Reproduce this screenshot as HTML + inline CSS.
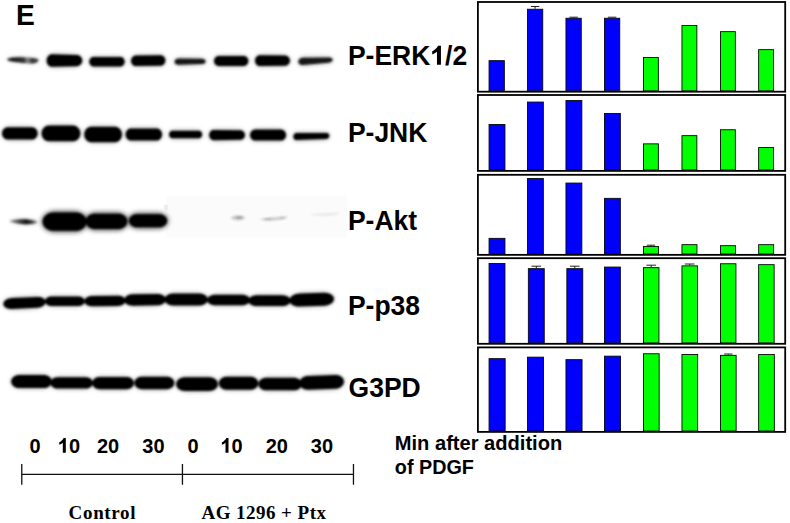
<!DOCTYPE html>
<html><head><meta charset="utf-8">
<style>
html,body{margin:0;padding:0;background:#fff;}
body{width:790px;height:523px;overflow:hidden;position:relative;}
svg{position:absolute;left:0;top:0;}
.s{font-family:"Liberation Sans",sans-serif;font-weight:bold;fill:#000;}
.f{font-family:"Liberation Serif",serif;font-weight:bold;fill:#000;}
</style></head><body>
<svg width="790" height="523" viewBox="0 0 790 523">
<defs><filter id="bl" x="-10%" y="-50%" width="120%" height="200%"><feGaussianBlur stdDeviation="0.85"/></filter><linearGradient id="g1" x1="6" x2="39" y1="0" y2="0" gradientUnits="userSpaceOnUse"><stop offset="0" stop-color="#555"/><stop offset="0.2" stop-color="#1a1a1a"/><stop offset="0.55" stop-color="#333"/><stop offset="0.65" stop-color="#888"/><stop offset="0.8" stop-color="#333"/><stop offset="1" stop-color="#555"/></linearGradient><linearGradient id="g2" x1="9" x2="38" y1="0" y2="0" gradientUnits="userSpaceOnUse"><stop offset="0" stop-color="#999"/><stop offset="0.3" stop-color="#555"/><stop offset="0.6" stop-color="#111"/><stop offset="0.8" stop-color="#444"/><stop offset="1" stop-color="#aaa"/></linearGradient><filter id="bh3" x="-30%" y="-100%" width="160%" height="300%"><feGaussianBlur stdDeviation="2.6"/></filter><filter id="bh" x="-20%" y="-100%" width="140%" height="300%"><feGaussianBlur stdDeviation="2.2"/></filter></defs>
<rect x="0" y="0" width="790" height="523" fill="#fff"/>
<rect x="166" y="196" width="181" height="41.5" fill="#fbfbfb"/><ellipse cx="166" cy="207.5" rx="2" ry="3" fill="#ececec"/>
<g filter="url(#bh3)" opacity="0.4">
<path d="M74.61 210.50L75.78 210.54L76.95 210.67L78.10 210.88L79.22 211.17L80.31 211.54L81.35 211.99L82.35 212.52L83.28 213.11L84.15 213.77L84.94 214.48L85.66 215.25L86.29 216.07L86.84 216.94L87.29 217.84L87.64 218.76L87.90 219.71L88.05 220.68L88.10 221.65L88.05 222.62L87.90 223.59L87.64 224.54L87.29 225.46L86.84 226.36L86.29 227.22L85.66 228.05L84.94 228.82L84.15 229.53L83.28 230.19L82.35 230.78L81.35 231.31L80.31 231.76L79.22 232.13L78.10 232.42L76.95 232.63L75.78 232.76L74.61 232.80L54.69 232.80L53.52 232.76L52.35 232.63L51.20 232.42L50.08 232.13L48.99 231.76L47.95 231.31L46.95 230.78L46.02 230.19L45.15 229.53L44.36 228.82L43.64 228.05L43.01 227.23L42.46 226.36L42.01 225.46L41.66 224.54L41.40 223.59L41.25 222.62L41.20 221.65L41.25 220.68L41.40 219.71L41.66 218.76L42.01 217.84L42.46 216.94L43.01 216.08L43.64 215.25L44.36 214.48L45.15 213.77L46.02 213.11L46.95 212.52L47.95 211.99L48.99 211.54L50.08 211.17L51.20 210.88L52.35 210.67L53.52 210.54L54.69 210.50Z" fill="#000"/>
<path d="M117.12 211.70L118.14 211.74L119.15 211.85L120.15 212.03L121.12 212.28L122.06 212.60L122.96 212.99L123.82 213.45L124.63 213.96L125.38 214.53L126.07 215.15L126.69 215.81L127.24 216.52L127.71 217.27L128.10 218.05L128.40 218.85L128.62 219.67L128.76 220.51L128.80 221.35L128.76 222.19L128.62 223.03L128.40 223.85L128.10 224.65L127.71 225.43L127.24 226.17L126.69 226.89L126.07 227.55L125.38 228.17L124.63 228.74L123.82 229.25L122.96 229.71L122.06 230.10L121.12 230.42L120.15 230.67L119.15 230.85L118.14 230.96L117.12 231.00L95.88 231.00L94.86 230.96L93.85 230.85L92.85 230.67L91.88 230.42L90.94 230.10L90.04 229.71L89.18 229.25L88.37 228.74L87.62 228.17L86.93 227.55L86.31 226.89L85.76 226.18L85.29 225.43L84.90 224.65L84.60 223.85L84.38 223.03L84.24 222.19L84.20 221.35L84.24 220.51L84.38 219.67L84.60 218.85L84.90 218.05L85.29 217.27L85.76 216.53L86.31 215.81L86.93 215.15L87.62 214.53L88.37 213.96L89.18 213.45L90.04 212.99L90.94 212.60L91.88 212.28L92.85 212.03L93.85 211.85L94.86 211.74L95.88 211.70Z" fill="#000"/>
<path d="M158.25 212.20L159.16 212.23L160.05 212.33L160.93 212.49L161.79 212.72L162.63 213.00L163.43 213.35L164.19 213.75L164.90 214.20L165.57 214.70L166.18 215.25L166.73 215.85L167.21 216.47L167.63 217.14L167.98 217.83L168.25 218.54L168.44 219.27L168.56 220.00L168.60 220.75L168.56 221.50L168.44 222.23L168.25 222.96L167.98 223.67L167.63 224.36L167.21 225.03L166.73 225.65L166.18 226.25L165.57 226.80L164.90 227.30L164.19 227.75L163.43 228.15L162.63 228.50L161.79 228.78L160.93 229.01L160.05 229.17L159.16 229.27L158.25 229.30L137.85 229.30L136.94 229.27L136.05 229.17L135.17 229.01L134.31 228.78L133.47 228.50L132.67 228.15L131.91 227.75L131.20 227.30L130.53 226.80L129.92 226.25L129.37 225.65L128.89 225.03L128.47 224.36L128.12 223.67L127.85 222.96L127.66 222.23L127.54 221.50L127.50 220.75L127.54 220.00L127.66 219.27L127.85 218.54L128.12 217.83L128.47 217.14L128.89 216.47L129.37 215.85L129.92 215.25L130.53 214.70L131.20 214.20L131.91 213.75L132.67 213.35L133.47 213.00L134.31 212.72L135.17 212.49L136.05 212.33L136.94 212.23L137.85 212.20Z" fill="#000"/>
</g>
<g filter="url(#bh)" opacity="0.22">
<path d="M73.52 53.39L74.36 53.44L75.20 53.55L76.02 53.71L76.83 53.92L77.61 54.18L78.36 54.48L79.07 54.83L79.74 55.22L80.36 55.64L80.93 56.10L81.45 56.59L81.90 57.10L82.29 57.64L82.62 58.20L82.87 58.77L83.05 59.36L83.16 59.95L83.20 60.55L83.16 61.15L83.05 61.74L82.87 62.33L82.62 62.90L82.29 63.46L81.90 64.00L81.45 64.51L80.93 65.00L80.36 65.46L79.74 65.88L79.07 66.27L78.36 66.62L77.61 66.92L76.83 67.18L76.02 67.39L75.20 67.55L74.36 67.66L73.52 67.71L55.39 68.29L54.54 68.29L53.70 68.22L52.88 68.10L52.07 67.92L51.29 67.68L50.54 67.38L49.83 67.03L49.16 66.63L48.54 66.18L47.97 65.68L47.45 65.13L47.00 64.55L46.61 63.94L46.28 63.30L46.03 62.63L45.85 61.95L45.74 61.25L45.70 60.55L45.74 59.85L45.85 59.15L46.03 58.47L46.28 57.80L46.61 57.16L47.00 56.55L47.45 55.97L47.97 55.42L48.54 54.92L49.16 54.47L49.83 54.07L50.54 53.72L51.29 53.42L52.07 53.18L52.88 53.00L53.70 52.88L54.54 52.81L55.39 52.81Z" fill="rgb(0,0,0)"/>
<path d="M117.41 55.40L118.12 55.42L118.83 55.50L119.53 55.61L120.21 55.78L120.87 55.99L121.50 56.24L122.11 56.54L122.67 56.87L123.20 57.25L123.68 57.65L124.12 58.09L124.50 58.55L124.83 59.04L125.11 59.55L125.32 60.07L125.48 60.61L125.57 61.15L125.60 61.70L125.57 62.25L125.48 62.79L125.32 63.33L125.11 63.85L124.83 64.36L124.50 64.85L124.12 65.31L123.68 65.75L123.20 66.15L122.67 66.53L122.11 66.86L121.50 67.16L120.87 67.41L120.21 67.62L119.53 67.79L118.83 67.90L118.12 67.98L117.41 68.00L96.49 68.00L95.78 67.98L95.07 67.90L94.37 67.79L93.69 67.62L93.03 67.41L92.39 67.16L91.79 66.86L91.23 66.53L90.70 66.15L90.22 65.75L89.78 65.31L89.40 64.85L89.07 64.36L88.79 63.85L88.58 63.33L88.42 62.79L88.33 62.25L88.30 61.70L88.33 61.15L88.42 60.61L88.58 60.07L88.79 59.55L89.07 59.04L89.40 58.55L89.78 58.09L90.22 57.65L90.70 57.25L91.23 56.87L91.79 56.54L92.39 56.24L93.03 55.99L93.69 55.78L94.37 55.61L95.07 55.50L95.78 55.42L96.49 55.40Z" fill="rgb(0,0,0)"/>
<path d="M157.53 53.77L158.29 53.79L159.05 53.85L159.80 53.97L160.53 54.14L161.23 54.35L161.91 54.61L162.56 54.92L163.17 55.27L163.73 55.66L164.25 56.09L164.71 56.55L165.12 57.04L165.48 57.56L165.77 58.10L166.00 58.66L166.17 59.23L166.27 59.81L166.30 60.40L166.27 60.99L166.17 61.57L166.00 62.15L165.77 62.72L165.48 63.26L165.12 63.79L164.71 64.29L164.25 64.77L163.73 65.21L163.17 65.61L162.56 65.98L161.91 66.31L161.23 66.59L160.53 66.82L159.80 67.01L159.05 67.15L158.29 67.23L157.53 67.27L138.88 67.53L138.11 67.51L137.35 67.45L136.60 67.33L135.87 67.16L135.17 66.95L134.49 66.69L133.84 66.38L133.23 66.03L132.67 65.64L132.15 65.21L131.69 64.75L131.28 64.26L130.92 63.74L130.63 63.20L130.40 62.64L130.23 62.07L130.13 61.49L130.10 60.90L130.13 60.31L130.23 59.73L130.40 59.15L130.63 58.58L130.92 58.04L131.28 57.51L131.69 57.01L132.15 56.53L132.67 56.09L133.23 55.69L133.84 55.32L134.49 54.99L135.17 54.71L135.87 54.48L136.60 54.29L137.35 54.15L138.11 54.07L138.88 54.03Z" fill="rgb(0,0,0)"/>
<path d="M198.60 57.35L199.29 57.37L199.99 57.43L200.67 57.52L201.33 57.64L201.98 57.78L202.60 57.95L203.19 58.15L203.74 58.37L204.26 58.61L204.73 58.87L205.15 59.15L205.53 59.44L205.85 59.74L206.12 60.06L206.33 60.39L206.48 60.72L206.57 61.06L206.60 61.40L206.57 61.74L206.48 62.08L206.33 62.42L206.12 62.75L205.85 63.07L205.53 63.38L205.15 63.68L204.73 63.97L204.26 64.23L203.74 64.48L203.19 64.71L202.60 64.92L201.98 65.10L201.33 65.26L200.67 65.39L199.99 65.49L199.29 65.56L198.60 65.60L181.60 66.20L180.91 66.21L180.21 66.18L179.53 66.12L178.87 66.02L178.22 65.88L177.60 65.72L177.01 65.51L176.46 65.28L175.94 65.02L175.47 64.73L175.05 64.41L174.67 64.07L174.35 63.71L174.08 63.33L173.87 62.93L173.72 62.53L173.63 62.12L173.60 61.70L173.63 61.28L173.72 60.87L173.87 60.46L174.08 60.06L174.35 59.68L174.67 59.31L175.05 58.96L175.47 58.64L175.94 58.34L176.46 58.07L177.01 57.82L177.60 57.61L178.22 57.43L178.87 57.29L179.53 57.18L180.21 57.10L180.91 57.06L181.60 57.05Z" fill="rgb(20,20,20)"/>
<path d="M240.92 54.50L241.65 54.52L242.37 54.60L243.09 54.72L243.78 54.89L244.46 55.10L245.11 55.36L245.72 55.67L246.30 56.01L246.84 56.39L247.34 56.80L247.78 57.25L248.18 57.73L248.51 58.22L248.79 58.74L249.01 59.28L249.17 59.83L249.27 60.39L249.30 60.95L249.27 61.51L249.17 62.07L249.01 62.62L248.79 63.16L248.51 63.68L248.18 64.17L247.78 64.65L247.34 65.10L246.84 65.51L246.30 65.89L245.72 66.23L245.11 66.54L244.46 66.80L243.78 67.01L243.09 67.18L242.37 67.30L241.65 67.38L240.92 67.40L221.49 67.40L220.75 67.38L220.03 67.30L219.31 67.18L218.62 67.01L217.94 66.80L217.29 66.54L216.68 66.23L216.10 65.89L215.56 65.51L215.06 65.10L214.62 64.65L214.22 64.18L213.89 63.68L213.61 63.16L213.39 62.62L213.23 62.07L213.13 61.51L213.10 60.95L213.13 60.39L213.23 59.83L213.39 59.28L213.61 58.74L213.89 58.22L214.22 57.73L214.62 57.25L215.06 56.80L215.56 56.39L216.10 56.01L216.68 55.67L217.29 55.36L217.94 55.10L218.62 54.89L219.31 54.72L220.03 54.60L220.75 54.52L221.49 54.50Z" fill="rgb(0,0,0)"/>
<path d="M282.12 54.08L282.89 54.12L283.65 54.20L284.40 54.34L285.13 54.52L285.83 54.75L286.51 55.03L287.16 55.34L287.77 55.69L288.33 56.08L288.85 56.50L289.31 56.96L289.72 57.43L290.08 57.93L290.37 58.45L290.60 58.99L290.77 59.54L290.87 60.09L290.90 60.65L290.87 61.21L290.77 61.76L290.60 62.31L290.37 62.85L290.08 63.37L289.72 63.87L289.31 64.34L288.85 64.80L288.33 65.22L287.77 65.61L287.16 65.96L286.51 66.27L285.83 66.55L285.13 66.78L284.40 66.96L283.65 67.10L282.89 67.18L282.12 67.22L262.88 67.58L262.11 67.56L261.35 67.50L260.60 67.38L259.87 67.21L259.17 66.99L258.49 66.72L257.84 66.40L257.23 66.04L256.67 65.63L256.15 65.18L255.69 64.70L255.28 64.18L254.92 63.64L254.63 63.07L254.40 62.48L254.23 61.88L254.13 61.27L254.10 60.65L254.13 60.03L254.23 59.42L254.40 58.82L254.63 58.23L254.92 57.66L255.28 57.12L255.69 56.60L256.15 56.12L256.67 55.67L257.23 55.26L257.84 54.90L258.49 54.58L259.17 54.31L259.87 54.09L260.60 53.92L261.35 53.80L262.11 53.74L262.88 53.72Z" fill="rgb(0,0,0)"/>
<path d="M325.14 56.11L325.87 56.13L326.61 56.17L327.33 56.25L328.03 56.35L328.71 56.48L329.37 56.64L329.99 56.81L330.58 57.01L331.12 57.23L331.62 57.47L332.07 57.72L332.47 57.99L332.81 58.27L333.09 58.56L333.31 58.86L333.47 59.17L333.57 59.48L333.60 59.80L333.57 60.12L333.47 60.45L333.31 60.77L333.09 61.09L332.81 61.41L332.47 61.73L332.07 62.03L331.62 62.33L331.12 62.61L330.58 62.89L329.99 63.14L329.37 63.38L328.71 63.60L328.03 63.80L327.33 63.97L326.61 64.12L325.87 64.24L325.14 64.33L305.86 66.27L305.13 66.32L304.39 66.34L303.67 66.31L302.97 66.24L302.29 66.13L301.63 65.98L301.01 65.79L300.42 65.56L299.88 65.29L299.38 64.99L298.93 64.65L298.53 64.27L298.19 63.88L297.91 63.45L297.69 63.01L297.53 62.55L297.43 62.08L297.40 61.60L297.43 61.12L297.53 60.64L297.69 60.16L297.91 59.70L298.19 59.24L298.53 58.81L298.93 58.40L299.38 58.02L299.88 57.66L300.42 57.34L301.01 57.05L301.63 56.80L302.29 56.58L302.97 56.40L303.67 56.26L304.39 56.17L305.13 56.11L305.86 56.09Z" fill="rgb(20,20,20)"/>
<path d="M28.72 125.80L29.58 125.83L30.44 125.92L31.28 126.06L32.10 126.26L32.90 126.51L33.66 126.82L34.39 127.17L35.07 127.58L35.71 128.03L36.29 128.51L36.81 129.04L37.28 129.60L37.67 130.19L38.00 130.80L38.26 131.43L38.45 132.08L38.56 132.74L38.60 133.40L38.56 134.06L38.45 134.72L38.26 135.37L38.00 136.00L37.67 136.61L37.28 137.20L36.81 137.76L36.29 138.29L35.71 138.77L35.07 139.22L34.39 139.63L33.66 139.98L32.90 140.29L32.10 140.54L31.28 140.74L30.44 140.88L29.58 140.97L28.72 141.00L10.98 141.00L10.12 140.97L9.26 140.88L8.42 140.74L7.60 140.54L6.80 140.29L6.04 139.98L5.31 139.63L4.63 139.22L3.99 138.77L3.41 138.29L2.89 137.76L2.42 137.20L2.03 136.61L1.70 136.00L1.44 135.37L1.25 134.72L1.14 134.06L1.10 133.40L1.14 132.74L1.25 132.08L1.44 131.43L1.70 130.80L2.03 130.19L2.42 129.60L2.89 129.04L3.41 128.51L3.99 128.03L4.63 127.58L5.31 127.17L6.04 126.82L6.80 126.51L7.60 126.26L8.42 126.06L9.26 125.92L10.12 125.83L10.98 125.80Z" fill="rgb(0,0,0)"/>
<path d="M69.21 124.10L70.26 124.14L71.31 124.24L72.34 124.42L73.35 124.66L74.32 124.97L75.25 125.35L76.14 125.78L76.98 126.28L77.76 126.82L78.47 127.42L79.11 128.07L79.68 128.75L80.17 129.47L80.57 130.22L80.89 130.99L81.12 131.79L81.25 132.59L81.30 133.40L81.25 134.21L81.12 135.01L80.89 135.81L80.57 136.58L80.17 137.33L79.68 138.05L79.11 138.73L78.47 139.38L77.76 139.98L76.98 140.52L76.14 141.02L75.25 141.45L74.32 141.83L73.35 142.14L72.34 142.38L71.31 142.56L70.26 142.66L69.21 142.70L52.69 142.70L51.64 142.66L50.59 142.56L49.56 142.38L48.55 142.14L47.58 141.83L46.65 141.45L45.76 141.02L44.92 140.52L44.14 139.98L43.43 139.38L42.79 138.73L42.22 138.05L41.73 137.33L41.33 136.58L41.01 135.81L40.78 135.01L40.65 134.21L40.60 133.40L40.65 132.59L40.78 131.79L41.01 130.99L41.33 130.22L41.73 129.47L42.22 128.75L42.79 128.07L43.43 127.42L44.14 126.82L44.92 126.28L45.76 125.78L46.64 125.35L47.58 124.97L48.55 124.66L49.56 124.42L50.59 124.24L51.64 124.14L52.69 124.10Z" fill="rgb(0,0,0)"/>
<path d="M110.81 125.20L111.86 125.24L112.91 125.34L113.94 125.52L114.95 125.76L115.92 126.07L116.86 126.45L117.74 126.88L118.58 127.38L119.36 127.92L120.07 128.52L120.71 129.17L121.28 129.85L121.77 130.57L122.17 131.32L122.49 132.09L122.72 132.89L122.85 133.69L122.90 134.50L122.85 135.31L122.72 136.11L122.49 136.91L122.17 137.68L121.77 138.43L121.28 139.15L120.71 139.83L120.07 140.48L119.36 141.08L118.58 141.62L117.74 142.12L116.86 142.55L115.92 142.93L114.95 143.24L113.94 143.48L112.91 143.66L111.86 143.76L110.81 143.80L95.39 143.80L94.34 143.76L93.29 143.66L92.26 143.48L91.25 143.24L90.28 142.93L89.34 142.55L88.46 142.12L87.62 141.62L86.84 141.08L86.13 140.48L85.49 139.83L84.92 139.15L84.43 138.43L84.03 137.68L83.71 136.91L83.48 136.11L83.35 135.31L83.30 134.50L83.35 133.69L83.48 132.89L83.71 132.09L84.03 131.32L84.43 130.57L84.92 129.85L85.49 129.17L86.13 128.52L86.84 127.92L87.62 127.38L88.46 126.88L89.34 126.45L90.28 126.07L91.25 125.76L92.26 125.52L93.29 125.34L94.34 125.24L95.39 125.20Z" fill="rgb(0,0,0)"/>
<path d="M153.12 126.90L153.98 126.93L154.84 127.02L155.68 127.16L156.50 127.36L157.30 127.61L158.06 127.92L158.79 128.27L159.47 128.68L160.11 129.13L160.69 129.61L161.21 130.14L161.68 130.70L162.07 131.29L162.40 131.90L162.66 132.53L162.85 133.18L162.96 133.84L163.00 134.50L162.96 135.16L162.85 135.82L162.66 136.47L162.40 137.10L162.07 137.71L161.68 138.30L161.21 138.86L160.69 139.39L160.11 139.87L159.47 140.32L158.79 140.73L158.06 141.08L157.30 141.39L156.50 141.64L155.68 141.84L154.84 141.98L153.98 142.07L153.12 142.10L134.48 142.10L133.62 142.07L132.76 141.98L131.92 141.84L131.10 141.64L130.30 141.39L129.54 141.08L128.81 140.73L128.13 140.32L127.49 139.87L126.91 139.39L126.39 138.86L125.92 138.30L125.53 137.71L125.20 137.10L124.94 136.47L124.75 135.82L124.64 135.16L124.60 134.50L124.64 133.84L124.75 133.18L124.94 132.53L125.20 131.90L125.53 131.29L125.92 130.70L126.39 130.14L126.91 129.61L127.49 129.13L128.13 128.68L128.81 128.27L129.54 127.92L130.30 127.61L131.10 127.36L131.92 127.16L132.76 127.02L133.62 126.93L134.48 126.90Z" fill="rgb(0,0,0)"/>
<path d="M196.21 129.20L196.81 129.22L197.41 129.28L197.99 129.38L198.57 129.52L199.12 129.70L199.65 129.91L200.16 130.16L200.64 130.44L201.08 130.75L201.49 131.09L201.85 131.46L202.18 131.85L202.45 132.26L202.68 132.69L202.87 133.13L203.00 133.58L203.07 134.04L203.10 134.50L203.07 134.96L203.00 135.42L202.87 135.87L202.68 136.31L202.45 136.74L202.18 137.15L201.85 137.54L201.49 137.91L201.08 138.25L200.64 138.56L200.16 138.84L199.66 139.09L199.12 139.30L198.57 139.48L197.99 139.62L197.41 139.72L196.81 139.78L196.21 139.80L174.99 139.80L174.39 139.78L173.79 139.72L173.21 139.62L172.63 139.48L172.08 139.30L171.55 139.09L171.04 138.84L170.56 138.56L170.12 138.25L169.71 137.91L169.35 137.54L169.02 137.15L168.75 136.74L168.52 136.31L168.33 135.87L168.20 135.42L168.13 134.96L168.10 134.50L168.13 134.04L168.20 133.58L168.33 133.13L168.52 132.69L168.75 132.26L169.02 131.85L169.35 131.46L169.71 131.09L170.12 130.75L170.56 130.44L171.04 130.16L171.54 129.91L172.08 129.70L172.63 129.52L173.21 129.38L173.79 129.28L174.39 129.22L174.99 129.20Z" fill="rgb(0,0,0)"/>
<path d="M237.51 128.78L238.25 128.82L238.97 128.90L239.69 129.03L240.38 129.20L241.06 129.42L241.71 129.68L242.32 129.98L242.90 130.32L243.44 130.69L243.94 131.09L244.38 131.52L244.78 131.98L245.11 132.45L245.39 132.95L245.61 133.46L245.77 133.99L245.87 134.52L245.90 135.05L245.87 135.58L245.77 136.11L245.61 136.64L245.39 137.15L245.11 137.65L244.78 138.12L244.38 138.58L243.94 139.01L243.44 139.41L242.90 139.78L242.32 140.12L241.71 140.42L241.06 140.68L240.38 140.90L239.69 141.07L238.97 141.20L238.25 141.28L237.51 141.32L216.58 141.68L215.85 141.67L215.13 141.60L214.41 141.49L213.72 141.33L213.04 141.11L212.39 140.85L211.78 140.55L211.20 140.20L210.66 139.81L210.16 139.38L209.72 138.92L209.32 138.43L208.99 137.91L208.71 137.36L208.49 136.80L208.33 136.23L208.23 135.64L208.20 135.05L208.23 134.46L208.33 133.87L208.49 133.30L208.71 132.74L208.99 132.19L209.32 131.67L209.72 131.18L210.16 130.72L210.66 130.29L211.20 129.90L211.78 129.55L212.39 129.25L213.04 128.99L213.72 128.77L214.41 128.61L215.13 128.50L215.85 128.43L216.58 128.42Z" fill="rgb(0,0,0)"/>
<path d="M277.90 128.10L278.69 128.13L279.48 128.21L280.26 128.34L281.01 128.52L281.75 128.76L282.45 129.04L283.12 129.37L283.75 129.74L284.33 130.15L284.87 130.60L285.35 131.08L285.78 131.60L286.15 132.14L286.45 132.71L286.69 133.29L286.86 133.88L286.97 134.49L287.00 135.10L286.97 135.71L286.86 136.32L286.69 136.91L286.45 137.49L286.15 138.06L285.78 138.60L285.35 139.12L284.87 139.60L284.33 140.05L283.75 140.46L283.12 140.83L282.45 141.16L281.75 141.44L281.01 141.68L280.26 141.86L279.48 141.99L278.69 142.07L277.90 142.10L258.20 142.10L257.41 142.07L256.62 141.99L255.84 141.86L255.09 141.68L254.35 141.44L253.65 141.16L252.98 140.83L252.35 140.46L251.77 140.05L251.23 139.60L250.75 139.12L250.32 138.60L249.95 138.06L249.65 137.49L249.41 136.91L249.24 136.32L249.13 135.71L249.10 135.10L249.13 134.49L249.24 133.88L249.41 133.29L249.65 132.71L249.95 132.14L250.32 131.60L250.75 131.08L251.23 130.60L251.77 130.15L252.35 129.74L252.98 129.37L253.65 129.04L254.35 128.76L255.09 128.52L255.84 128.34L256.62 128.21L257.41 128.13L258.20 128.10Z" fill="rgb(0,0,0)"/>
<path d="M324.12 131.55L324.66 131.57L325.20 131.62L325.72 131.71L326.24 131.82L326.73 131.97L327.21 132.15L327.67 132.35L328.09 132.58L328.49 132.83L328.86 133.11L329.18 133.41L329.47 133.72L329.72 134.05L329.93 134.39L330.09 134.75L330.21 135.11L330.28 135.48L330.30 135.85L330.28 136.22L330.21 136.59L330.09 136.96L329.93 137.32L329.72 137.68L329.47 138.02L329.18 138.34L328.86 138.65L328.49 138.94L328.09 139.21L327.67 139.46L327.21 139.68L326.73 139.88L326.24 140.05L325.72 140.19L325.20 140.29L324.66 140.37L324.12 140.41L298.57 141.59L298.04 141.60L297.50 141.56L296.98 141.49L296.46 141.38L295.97 141.23L295.49 141.04L295.03 140.82L294.61 140.56L294.21 140.27L293.84 139.95L293.52 139.61L293.23 139.23L292.98 138.84L292.77 138.43L292.61 138.00L292.49 137.55L292.42 137.10L292.40 136.65L292.42 136.19L292.49 135.74L292.61 135.29L292.77 134.86L292.98 134.44L293.23 134.03L293.52 133.65L293.84 133.28L294.21 132.95L294.61 132.64L295.03 132.37L295.49 132.13L295.97 131.92L296.46 131.75L296.98 131.62L297.50 131.52L298.04 131.47L298.57 131.45Z" fill="rgb(0,0,0)"/>
<path d="M70.88 211.00L72.34 211.04L73.78 211.16L75.21 211.36L76.60 211.64L77.95 212.00L79.24 212.43L80.47 212.93L81.63 213.49L82.70 214.12L83.69 214.80L84.58 215.54L85.36 216.32L86.03 217.15L86.59 218.01L87.03 218.89L87.35 219.80L87.54 220.72L87.60 221.65L87.54 222.58L87.35 223.50L87.03 224.41L86.59 225.29L86.03 226.15L85.36 226.97L84.58 227.76L83.69 228.50L82.70 229.18L81.63 229.81L80.47 230.37L79.24 230.87L77.95 231.30L76.60 231.66L75.21 231.94L73.78 232.14L72.34 232.26L70.88 232.30L58.42 232.30L56.96 232.26L55.52 232.14L54.09 231.94L52.70 231.66L51.35 231.30L50.06 230.87L48.83 230.37L47.67 229.81L46.60 229.18L45.61 228.50L44.72 227.76L43.94 226.98L43.27 226.15L42.71 225.29L42.27 224.41L41.95 223.50L41.76 222.58L41.70 221.65L41.76 220.72L41.95 219.80L42.27 218.89L42.71 218.01L43.27 217.15L43.94 216.33L44.72 215.54L45.61 214.80L46.60 214.12L47.67 213.49L48.83 212.93L50.06 212.43L51.35 212.00L52.70 211.64L54.09 211.36L55.52 211.16L56.96 211.04L58.42 211.00Z" fill="rgb(0,0,0)"/>
<path d="M113.93 212.20L115.19 212.23L116.43 212.34L117.65 212.51L118.85 212.75L120.01 213.06L121.12 213.43L122.17 213.85L123.17 214.34L124.09 214.88L124.94 215.47L125.70 216.10L126.38 216.77L126.95 217.48L127.43 218.22L127.81 218.98L128.08 219.76L128.25 220.55L128.30 221.35L128.25 222.15L128.08 222.94L127.81 223.72L127.43 224.48L126.95 225.22L126.38 225.92L125.70 226.60L124.94 227.23L124.09 227.82L123.17 228.36L122.17 228.85L121.12 229.27L120.01 229.64L118.85 229.95L117.65 230.19L116.43 230.36L115.19 230.47L113.93 230.50L99.07 230.50L97.81 230.47L96.57 230.36L95.35 230.19L94.15 229.95L92.99 229.64L91.88 229.27L90.83 228.85L89.83 228.36L88.91 227.82L88.06 227.23L87.30 226.60L86.62 225.93L86.05 225.22L85.57 224.48L85.19 223.72L84.92 222.94L84.75 222.15L84.70 221.35L84.75 220.55L84.92 219.76L85.19 218.98L85.57 218.22L86.05 217.48L86.62 216.78L87.30 216.10L88.06 215.47L88.91 214.88L89.83 214.34L90.83 213.85L91.88 213.43L92.99 213.06L94.15 212.75L95.35 212.51L96.57 212.34L97.81 212.23L99.07 212.20Z" fill="rgb(0,0,0)"/>
<path d="M154.74 212.70L155.90 212.73L157.06 212.82L158.20 212.97L159.31 213.19L160.38 213.45L161.42 213.78L162.40 214.16L163.33 214.58L164.19 215.06L164.97 215.58L165.68 216.13L166.31 216.72L166.85 217.35L167.29 218.00L167.64 218.67L167.90 219.35L168.05 220.05L168.10 220.75L168.05 221.45L167.90 222.15L167.64 222.83L167.29 223.50L166.85 224.15L166.31 224.78L165.68 225.37L164.97 225.92L164.19 226.44L163.33 226.92L162.40 227.34L161.42 227.72L160.38 228.05L159.31 228.31L158.20 228.53L157.06 228.68L155.90 228.77L154.74 228.80L141.36 228.80L140.20 228.77L139.04 228.68L137.90 228.53L136.79 228.31L135.72 228.05L134.68 227.72L133.70 227.34L132.77 226.92L131.91 226.44L131.13 225.92L130.42 225.37L129.79 224.78L129.25 224.15L128.81 223.50L128.46 222.83L128.20 222.15L128.05 221.45L128.00 220.75L128.05 220.05L128.20 219.35L128.46 218.67L128.81 218.00L129.25 217.35L129.79 216.72L130.42 216.13L131.13 215.58L131.91 215.06L132.77 214.58L133.70 214.16L134.68 213.78L135.72 213.45L136.79 213.19L137.90 212.97L139.04 212.82L140.20 212.73L141.36 212.70Z" fill="rgb(0,0,0)"/>
<path d="M33.28 295.60L34.44 295.58L35.60 295.60L36.73 295.68L37.84 295.81L38.91 295.99L39.94 296.23L40.92 296.50L41.84 296.83L42.70 297.20L43.48 297.61L44.19 298.05L44.82 298.53L45.35 299.04L45.80 299.58L46.15 300.13L46.40 300.71L46.55 301.30L46.60 301.90L46.55 302.50L46.40 303.11L46.15 303.71L45.80 304.30L45.35 304.87L44.82 305.43L44.19 305.97L43.48 306.48L42.70 306.96L41.84 307.40L40.92 307.81L39.94 308.18L38.91 308.50L37.84 308.78L36.73 309.01L35.60 309.19L34.44 309.32L33.28 309.40L15.72 310.20L14.56 310.22L13.40 310.20L12.27 310.12L11.16 309.99L10.09 309.81L9.06 309.57L8.08 309.30L7.16 308.97L6.30 308.60L5.52 308.19L4.81 307.75L4.18 307.27L3.65 306.76L3.20 306.22L2.85 305.67L2.60 305.09L2.45 304.50L2.40 303.90L2.45 303.30L2.60 302.69L2.85 302.09L3.20 301.50L3.65 300.93L4.18 300.37L4.81 299.83L5.52 299.32L6.30 298.84L7.16 298.40L8.08 297.99L9.06 297.62L10.09 297.30L11.16 297.02L12.27 296.79L13.40 296.61L14.56 296.48L15.72 296.40Z" fill="rgb(0,0,0)"/>
<path d="M73.64 294.90L74.71 294.92L75.77 295.00L76.82 295.12L77.84 295.28L78.82 295.49L79.77 295.75L80.67 296.05L81.52 296.39L82.31 296.76L83.03 297.17L83.68 297.61L84.26 298.07L84.75 298.57L85.16 299.08L85.48 299.61L85.71 300.15L85.85 300.70L85.90 301.25L85.85 301.80L85.71 302.35L85.48 302.89L85.16 303.42L84.75 303.93L84.26 304.43L83.68 304.89L83.03 305.33L82.31 305.74L81.52 306.11L80.67 306.45L79.77 306.75L78.82 307.01L77.84 307.22L76.82 307.38L75.77 307.50L74.71 307.58L73.64 307.60L56.16 307.60L55.09 307.58L54.03 307.50L52.98 307.38L51.96 307.22L50.98 307.01L50.03 306.75L49.13 306.45L48.28 306.11L47.49 305.74L46.77 305.33L46.12 304.89L45.54 304.43L45.05 303.93L44.64 303.42L44.32 302.89L44.09 302.35L43.95 301.80L43.90 301.25L43.95 300.70L44.09 300.15L44.32 299.61L44.64 299.08L45.05 298.57L45.54 298.07L46.12 297.61L46.77 297.17L47.49 296.76L48.28 296.39L49.13 296.05L50.03 295.75L50.98 295.49L51.96 295.28L52.98 295.12L54.03 295.00L55.09 294.92L56.16 294.90Z" fill="rgb(0,0,0)"/>
<path d="M113.67 294.20L114.78 294.21L115.89 294.27L116.99 294.39L118.06 294.55L119.09 294.76L120.08 295.02L121.03 295.32L121.92 295.66L122.74 296.04L123.50 296.46L124.18 296.91L124.78 297.39L125.30 297.90L125.73 298.43L126.06 298.98L126.31 299.55L126.45 300.12L126.50 300.70L126.45 301.28L126.31 301.86L126.06 302.43L125.73 302.98L125.30 303.52L124.78 304.04L124.18 304.54L123.50 305.01L122.74 305.45L121.92 305.85L121.03 306.21L120.08 306.53L119.09 306.81L118.06 307.05L116.99 307.23L115.89 307.37L114.78 307.46L113.67 307.50L96.23 307.70L95.12 307.69L94.01 307.63L92.91 307.51L91.84 307.35L90.81 307.14L89.82 306.88L88.87 306.58L87.98 306.24L87.16 305.86L86.40 305.44L85.72 304.99L85.12 304.51L84.60 304.00L84.17 303.47L83.84 302.92L83.59 302.35L83.45 301.78L83.40 301.20L83.45 300.62L83.59 300.04L83.84 299.47L84.17 298.92L84.60 298.38L85.12 297.86L85.72 297.36L86.40 296.89L87.16 296.45L87.98 296.05L88.87 295.69L89.82 295.37L90.81 295.09L91.84 294.85L92.91 294.67L94.01 294.53L95.12 294.44L96.23 294.40Z" fill="rgb(0,0,0)"/>
<path d="M153.00 292.51L154.22 292.52L155.42 292.59L156.60 292.71L157.76 292.89L158.88 293.12L159.95 293.39L160.97 293.72L161.94 294.09L162.83 294.51L163.65 294.96L164.39 295.45L165.04 295.97L165.60 296.52L166.06 297.10L166.43 297.69L166.69 298.30L166.85 298.92L166.90 299.55L166.85 300.18L166.69 300.80L166.43 301.42L166.06 302.02L165.60 302.61L165.04 303.17L164.39 303.71L163.65 304.22L162.83 304.69L161.94 305.12L160.97 305.52L159.95 305.86L158.88 306.17L157.76 306.42L156.60 306.62L155.42 306.77L154.22 306.87L153.00 306.91L137.10 307.09L135.88 307.08L134.68 307.01L133.50 306.89L132.34 306.71L131.22 306.48L130.15 306.21L129.13 305.88L128.16 305.51L127.27 305.09L126.45 304.64L125.71 304.15L125.06 303.63L124.50 303.08L124.04 302.50L123.67 301.91L123.41 301.30L123.25 300.68L123.20 300.05L123.25 299.42L123.41 298.80L123.67 298.18L124.04 297.58L124.50 296.99L125.06 296.43L125.71 295.89L126.45 295.38L127.27 294.91L128.16 294.48L129.13 294.08L130.15 293.74L131.22 293.43L132.34 293.18L133.50 292.98L134.68 292.83L135.88 292.73L137.10 292.69Z" fill="rgb(0,0,0)"/>
<path d="M194.43 292.00L195.69 292.03L196.94 292.11L198.17 292.26L199.38 292.45L200.54 292.70L201.66 293.00L202.73 293.36L203.73 293.75L204.66 294.20L205.51 294.68L206.28 295.20L206.96 295.75L207.54 296.33L208.03 296.93L208.41 297.56L208.68 298.20L208.84 298.85L208.90 299.50L208.84 300.15L208.68 300.80L208.41 301.44L208.03 302.07L207.54 302.67L206.96 303.25L206.28 303.80L205.51 304.32L204.66 304.80L203.73 305.25L202.73 305.64L201.66 306.00L200.54 306.30L199.38 306.55L198.17 306.74L196.94 306.89L195.69 306.97L194.43 307.00L177.97 307.00L176.71 306.97L175.46 306.89L174.23 306.74L173.02 306.55L171.86 306.30L170.74 306.00L169.67 305.64L168.67 305.25L167.74 304.80L166.89 304.32L166.12 303.80L165.44 303.25L164.86 302.67L164.37 302.07L163.99 301.44L163.72 300.80L163.56 300.15L163.50 299.50L163.56 298.85L163.72 298.20L163.99 297.56L164.37 296.93L164.86 296.33L165.44 295.75L166.12 295.20L166.89 294.68L167.74 294.20L168.67 293.75L169.67 293.36L170.74 293.00L171.86 292.70L173.02 292.45L174.23 292.26L175.46 292.11L176.71 292.03L177.97 292.00Z" fill="rgb(0,0,0)"/>
<path d="M237.88 293.20L239.02 293.23L240.15 293.30L241.27 293.43L242.36 293.61L243.42 293.84L244.44 294.11L245.40 294.43L246.31 294.79L247.16 295.19L247.93 295.63L248.63 296.10L249.24 296.60L249.77 297.13L250.21 297.67L250.55 298.24L250.80 298.82L250.95 299.41L251.00 300.00L250.95 300.59L250.80 301.18L250.55 301.76L250.21 302.33L249.77 302.87L249.24 303.40L248.63 303.90L247.93 304.37L247.16 304.81L246.31 305.21L245.40 305.57L244.44 305.89L243.42 306.16L242.36 306.39L241.27 306.57L240.15 306.70L239.02 306.77L237.88 306.80L219.32 306.80L218.18 306.77L217.05 306.70L215.93 306.57L214.84 306.39L213.78 306.16L212.76 305.89L211.80 305.57L210.89 305.21L210.04 304.81L209.27 304.37L208.57 303.90L207.96 303.40L207.43 302.87L206.99 302.33L206.65 301.76L206.40 301.18L206.25 300.59L206.20 300.00L206.25 299.41L206.40 298.82L206.65 298.24L206.99 297.67L207.43 297.13L207.96 296.60L208.57 296.10L209.27 295.63L210.04 295.19L210.89 294.79L211.80 294.43L212.76 294.11L213.78 293.84L214.84 293.61L215.93 293.43L217.05 293.30L218.18 293.23L219.32 293.20Z" fill="rgb(0,0,0)"/>
<path d="M278.28 293.80L279.44 293.83L280.60 293.90L281.73 294.04L282.84 294.22L283.91 294.45L284.94 294.72L285.92 295.05L286.84 295.41L287.70 295.82L288.48 296.26L289.19 296.74L289.82 297.25L290.35 297.78L290.80 298.34L291.15 298.91L291.40 299.50L291.55 300.10L291.60 300.70L291.55 301.30L291.40 301.90L291.15 302.49L290.80 303.06L290.35 303.62L289.82 304.15L289.19 304.66L288.48 305.14L287.70 305.58L286.84 305.99L285.92 306.35L284.94 306.68L283.91 306.95L282.84 307.18L281.73 307.36L280.60 307.50L279.44 307.57L278.28 307.60L260.72 307.60L259.56 307.57L258.40 307.50L257.27 307.36L256.16 307.18L255.09 306.95L254.06 306.68L253.08 306.35L252.16 305.99L251.30 305.58L250.52 305.14L249.81 304.66L249.18 304.15L248.65 303.62L248.20 303.06L247.85 302.49L247.60 301.90L247.45 301.30L247.40 300.70L247.45 300.10L247.60 299.50L247.85 298.91L248.20 298.34L248.65 297.78L249.18 297.25L249.81 296.74L250.52 296.26L251.30 295.82L252.16 295.41L253.08 295.05L254.06 294.72L255.09 294.45L256.16 294.22L257.27 294.04L258.40 293.90L259.56 293.83L260.72 293.80Z" fill="rgb(0,0,0)"/>
<path d="M319.56 291.44L320.89 291.43L322.22 291.48L323.53 291.59L324.80 291.76L326.04 291.98L327.23 292.26L328.36 292.60L329.42 292.99L330.41 293.42L331.31 293.91L332.13 294.43L332.84 294.99L333.46 295.59L333.97 296.21L334.38 296.86L334.67 297.53L334.84 298.21L334.90 298.90L334.84 299.59L334.67 300.29L334.38 300.97L333.97 301.65L333.46 302.31L332.84 302.94L332.13 303.55L331.31 304.13L330.41 304.67L329.42 305.17L328.36 305.62L327.23 306.03L326.04 306.39L324.80 306.70L323.53 306.95L322.22 307.14L320.89 307.27L319.56 307.34L303.74 307.86L302.41 307.87L301.08 307.82L299.77 307.71L298.50 307.54L297.26 307.32L296.07 307.04L294.94 306.70L293.88 306.31L292.89 305.88L291.99 305.39L291.17 304.87L290.46 304.31L289.84 303.71L289.33 303.09L288.92 302.44L288.63 301.77L288.46 301.09L288.40 300.40L288.46 299.71L288.63 299.01L288.92 298.33L289.33 297.65L289.84 296.99L290.46 296.36L291.17 295.75L291.99 295.17L292.89 294.63L293.88 294.13L294.94 293.68L296.07 293.27L297.26 292.91L298.50 292.60L299.77 292.35L301.08 292.16L302.41 292.03L303.74 291.96Z" fill="rgb(0,0,0)"/>
<path d="M39.80 373.50L40.93 373.53L42.06 373.62L43.16 373.77L44.25 373.99L45.29 374.25L46.30 374.58L47.26 374.96L48.16 375.38L48.99 375.86L49.76 376.38L50.45 376.93L51.06 377.52L51.58 378.15L52.02 378.80L52.36 379.47L52.60 380.15L52.75 380.85L52.80 381.55L52.75 382.25L52.60 382.95L52.36 383.63L52.02 384.30L51.58 384.95L51.06 385.57L50.45 386.17L49.76 386.72L48.99 387.24L48.16 387.72L47.26 388.14L46.30 388.52L45.29 388.85L44.25 389.11L43.16 389.33L42.06 389.48L40.93 389.57L39.80 389.60L23.20 389.60L22.07 389.57L20.94 389.48L19.84 389.33L18.75 389.11L17.71 388.85L16.70 388.52L15.74 388.14L14.84 387.72L14.01 387.24L13.24 386.72L12.55 386.17L11.94 385.58L11.42 384.95L10.98 384.30L10.64 383.63L10.40 382.95L10.25 382.25L10.20 381.55L10.25 380.85L10.40 380.15L10.64 379.47L10.98 378.80L11.42 378.15L11.94 377.53L12.55 376.93L13.24 376.38L14.01 375.86L14.84 375.38L15.74 374.96L16.70 374.58L17.71 374.25L18.75 373.99L19.84 373.77L20.94 373.62L22.07 373.53L23.20 373.50Z" fill="rgb(0,0,0)"/>
<path d="M82.25 375.80L83.26 375.83L84.26 375.91L85.24 376.04L86.20 376.23L87.13 376.47L88.03 376.76L88.88 377.09L89.68 377.47L90.42 377.89L91.10 378.35L91.71 378.85L92.25 379.38L92.72 379.93L93.10 380.50L93.41 381.10L93.62 381.71L93.76 382.33L93.80 382.95L93.76 383.57L93.62 384.19L93.41 384.80L93.10 385.40L92.72 385.97L92.25 386.53L91.71 387.05L91.10 387.55L90.42 388.01L89.68 388.43L88.88 388.81L88.03 389.14L87.13 389.43L86.20 389.67L85.24 389.86L84.26 389.99L83.26 390.07L82.25 390.10L61.05 390.10L60.04 390.07L59.04 389.99L58.06 389.86L57.10 389.67L56.17 389.43L55.27 389.14L54.42 388.81L53.62 388.43L52.88 388.01L52.20 387.55L51.59 387.05L51.05 386.53L50.58 385.97L50.20 385.40L49.89 384.80L49.68 384.19L49.54 383.57L49.50 382.95L49.54 382.33L49.68 381.71L49.89 381.10L50.20 380.50L50.58 379.93L51.05 379.38L51.59 378.85L52.20 378.35L52.88 377.89L53.62 377.47L54.42 377.09L55.27 376.76L56.17 376.47L57.10 376.23L58.06 376.04L59.04 375.91L60.04 375.83L61.05 375.80Z" fill="rgb(0,0,0)"/>
<path d="M122.63 375.50L123.70 375.53L124.76 375.62L125.80 375.76L126.82 375.96L127.81 376.21L128.76 376.52L129.67 376.87L130.52 377.28L131.31 377.73L132.03 378.21L132.68 378.74L133.26 379.30L133.75 379.89L134.16 380.50L134.48 381.13L134.71 381.78L134.85 382.44L134.90 383.10L134.85 383.76L134.71 384.42L134.48 385.07L134.16 385.70L133.75 386.31L133.26 386.90L132.68 387.46L132.03 387.99L131.31 388.47L130.52 388.92L129.67 389.33L128.76 389.68L127.81 389.99L126.82 390.24L125.80 390.44L124.76 390.58L123.70 390.67L122.63 390.70L103.47 390.70L102.40 390.67L101.34 390.58L100.30 390.44L99.28 390.24L98.29 389.99L97.34 389.68L96.43 389.33L95.58 388.92L94.79 388.47L94.07 387.99L93.42 387.46L92.84 386.90L92.35 386.31L91.94 385.70L91.62 385.07L91.39 384.42L91.25 383.76L91.20 383.10L91.25 382.44L91.39 381.78L91.62 381.13L91.94 380.50L92.35 379.89L92.84 379.30L93.42 378.74L94.07 378.21L94.79 377.73L95.58 377.28L96.43 376.87L97.34 376.52L98.29 376.21L99.28 375.96L100.30 375.76L101.34 375.62L102.40 375.53L103.47 375.50Z" fill="rgb(0,0,0)"/>
<path d="M162.78 375.20L163.87 375.23L164.96 375.32L166.02 375.46L167.06 375.67L168.07 375.93L169.04 376.24L169.96 376.60L170.83 377.01L171.63 377.47L172.37 377.97L173.04 378.50L173.62 379.07L174.13 379.67L174.55 380.30L174.87 380.94L175.11 381.60L175.25 382.27L175.30 382.95L175.25 383.63L175.11 384.30L174.87 384.96L174.55 385.60L174.13 386.23L173.62 386.82L173.04 387.40L172.37 387.93L171.63 388.43L170.83 388.89L169.96 389.30L169.04 389.66L168.07 389.97L167.06 390.23L166.02 390.44L164.96 390.58L163.87 390.67L162.78 390.70L145.92 390.70L144.83 390.67L143.74 390.58L142.68 390.44L141.64 390.23L140.63 389.97L139.66 389.66L138.74 389.30L137.87 388.89L137.07 388.43L136.33 387.93L135.66 387.40L135.08 386.82L134.57 386.23L134.15 385.60L133.83 384.96L133.59 384.30L133.45 383.63L133.40 382.95L133.45 382.27L133.59 381.60L133.83 380.94L134.15 380.30L134.57 379.67L135.08 379.07L135.66 378.50L136.33 377.97L137.07 377.47L137.87 377.01L138.74 376.60L139.66 376.24L140.63 375.93L141.64 375.67L142.68 375.46L143.74 375.32L144.83 375.23L145.92 375.20Z" fill="rgb(0,0,0)"/>
<path d="M205.50 375.80L206.66 375.83L207.82 375.93L208.96 376.08L210.08 376.30L211.16 376.58L212.20 376.91L213.18 377.30L214.11 377.74L214.97 378.23L215.76 378.76L216.48 379.34L217.10 379.95L217.64 380.59L218.09 381.26L218.44 381.95L218.70 382.66L218.85 383.38L218.90 384.10L218.85 384.82L218.70 385.54L218.44 386.25L218.09 386.94L217.64 387.61L217.10 388.25L216.48 388.86L215.76 389.44L214.97 389.97L214.11 390.46L213.18 390.90L212.20 391.29L211.16 391.62L210.08 391.90L208.96 392.12L207.82 392.27L206.66 392.37L205.50 392.40L188.60 392.40L187.44 392.37L186.28 392.27L185.14 392.12L184.02 391.90L182.94 391.62L181.90 391.29L180.92 390.90L179.99 390.46L179.13 389.97L178.34 389.44L177.62 388.86L177.00 388.25L176.46 387.61L176.01 386.94L175.66 386.25L175.40 385.54L175.25 384.82L175.20 384.10L175.25 383.38L175.40 382.66L175.66 381.95L176.01 381.26L176.46 380.59L177.00 379.95L177.62 379.34L178.34 378.76L179.13 378.23L179.99 377.74L180.92 377.30L181.90 376.91L182.94 376.58L184.02 376.30L185.14 376.08L186.28 375.93L187.44 375.83L188.60 375.80Z" fill="rgb(0,0,0)"/>
<path d="M246.30 375.20L247.43 375.23L248.56 375.32L249.66 375.47L250.75 375.69L251.79 375.95L252.80 376.28L253.76 376.66L254.66 377.08L255.49 377.56L256.26 378.08L256.95 378.63L257.56 379.23L258.08 379.85L258.52 380.50L258.86 381.17L259.10 381.85L259.25 382.55L259.30 383.25L259.25 383.95L259.10 384.65L258.86 385.33L258.52 386.00L258.08 386.65L257.56 387.27L256.95 387.87L256.26 388.42L255.49 388.94L254.66 389.42L253.76 389.84L252.80 390.22L251.79 390.55L250.75 390.81L249.66 391.03L248.56 391.18L247.43 391.27L246.30 391.30L230.90 391.30L229.77 391.27L228.64 391.18L227.54 391.03L226.45 390.81L225.41 390.55L224.40 390.22L223.44 389.84L222.54 389.42L221.71 388.94L220.94 388.42L220.25 387.87L219.64 387.28L219.12 386.65L218.68 386.00L218.34 385.33L218.10 384.65L217.95 383.95L217.90 383.25L217.95 382.55L218.10 381.85L218.34 381.17L218.68 380.50L219.12 379.85L219.64 379.23L220.25 378.63L220.94 378.08L221.71 377.56L222.54 377.08L223.44 376.66L224.40 376.28L225.41 375.95L226.45 375.69L227.54 375.47L228.64 375.32L229.77 375.23L230.90 375.20Z" fill="rgb(0,0,0)"/>
<path d="M290.28 376.30L291.37 376.33L292.46 376.42L293.52 376.56L294.56 376.77L295.57 377.03L296.54 377.34L297.46 377.70L298.33 378.11L299.13 378.57L299.87 379.07L300.54 379.60L301.12 380.18L301.63 380.77L302.05 381.40L302.37 382.04L302.61 382.70L302.75 383.37L302.80 384.05L302.75 384.73L302.61 385.40L302.37 386.06L302.05 386.70L301.63 387.33L301.12 387.93L300.54 388.50L299.87 389.03L299.13 389.53L298.33 389.99L297.46 390.40L296.54 390.76L295.57 391.07L294.56 391.33L293.52 391.54L292.46 391.68L291.37 391.77L290.28 391.80L269.92 391.80L268.83 391.77L267.74 391.68L266.68 391.54L265.64 391.33L264.63 391.07L263.66 390.76L262.74 390.40L261.87 389.99L261.07 389.53L260.33 389.03L259.66 388.50L259.08 387.93L258.57 387.33L258.15 386.70L257.83 386.06L257.59 385.40L257.45 384.73L257.40 384.05L257.45 383.37L257.59 382.70L257.83 382.04L258.15 381.40L258.57 380.77L259.08 380.18L259.66 379.60L260.33 379.07L261.07 378.57L261.87 378.11L262.74 377.70L263.66 377.34L264.63 377.03L265.64 376.77L266.68 376.56L267.74 376.42L268.83 376.33L269.92 376.30Z" fill="rgb(0,0,0)"/>
<path d="M331.41 373.69L332.59 373.68L333.76 373.74L334.90 373.86L336.03 374.04L337.11 374.28L338.16 374.59L339.15 374.95L340.08 375.36L340.95 375.82L341.75 376.33L342.46 376.89L343.09 377.48L343.64 378.11L344.09 378.77L344.44 379.45L344.70 380.16L344.85 380.87L344.90 381.60L344.85 382.33L344.70 383.06L344.44 383.78L344.09 384.48L343.64 385.17L343.09 385.83L342.46 386.47L341.75 387.07L340.95 387.63L340.08 388.15L339.15 388.63L338.16 389.05L337.11 389.42L336.03 389.73L334.90 389.99L333.76 390.18L332.59 390.32L331.41 390.39L311.89 391.01L310.71 391.02L309.54 390.96L308.40 390.84L307.27 390.66L306.19 390.42L305.14 390.11L304.15 389.75L303.22 389.34L302.35 388.88L301.55 388.37L300.84 387.81L300.21 387.22L299.66 386.59L299.21 385.93L298.86 385.25L298.60 384.54L298.45 383.83L298.40 383.10L298.45 382.37L298.60 381.64L298.86 380.92L299.21 380.22L299.66 379.53L300.21 378.87L300.84 378.23L301.55 377.63L302.35 377.07L303.22 376.55L304.15 376.07L305.14 375.65L306.19 375.28L307.27 374.97L308.40 374.71L309.54 374.52L310.71 374.38L311.89 374.31Z" fill="rgb(0,0,0)"/>
<path d="M6 59C9 57 16 56.5 24 57C30 57.5 35 57.8 39 59C39 62 37 63.5 33 63.8C28 64 24 63 19 62.5C13 62 8 61.5 6 59Z" fill="#000"/>
<path d="M9 221C14 219 22 218.5 28 219C33 219.4 36.5 220.4 38.5 222C36 224 32 224.8 27 224.8C20 224.5 13 223 9 221Z" fill="#000"/>
</g>
<g filter="url(#bl)">
<path d="M76.61 54.93L77.09 54.96L77.58 55.04L78.05 55.16L78.52 55.31L78.97 55.51L79.40 55.74L79.82 56.01L80.20 56.32L80.56 56.65L80.89 57.01L81.19 57.39L81.45 57.80L81.68 58.23L81.86 58.67L82.01 59.13L82.12 59.60L82.18 60.07L82.20 60.55L82.18 61.03L82.12 61.50L82.01 61.97L81.86 62.43L81.68 62.87L81.45 63.30L81.19 63.71L80.89 64.09L80.56 64.45L80.20 64.78L79.82 65.09L79.40 65.36L78.97 65.59L78.52 65.79L78.05 65.94L77.58 66.06L77.09 66.14L76.61 66.17L52.29 66.83L51.81 66.82L51.32 66.76L50.85 66.65L50.38 66.50L49.93 66.30L49.50 66.05L49.08 65.76L48.70 65.43L48.34 65.06L48.01 64.66L47.71 64.22L47.45 63.75L47.22 63.26L47.04 62.74L46.89 62.21L46.78 61.67L46.72 61.11L46.70 60.55L46.72 59.99L46.78 59.43L46.89 58.89L47.04 58.36L47.22 57.84L47.45 57.35L47.71 56.88L48.01 56.44L48.34 56.04L48.70 55.67L49.08 55.34L49.50 55.05L49.93 54.80L50.38 54.60L50.85 54.45L51.32 54.34L51.81 54.28L52.29 54.27Z" fill="rgb(0,0,0)"/>
<path d="M120.09 56.90L120.48 56.92L120.87 56.97L121.26 57.06L121.63 57.19L121.99 57.35L122.34 57.54L122.68 57.77L122.99 58.02L123.28 58.31L123.54 58.61L123.78 58.95L124.00 59.30L124.18 59.67L124.33 60.06L124.45 60.46L124.53 60.87L124.58 61.28L124.60 61.70L124.58 62.12L124.53 62.53L124.45 62.94L124.33 63.34L124.18 63.73L124.00 64.10L123.78 64.45L123.54 64.79L123.28 65.09L122.99 65.38L122.68 65.63L122.34 65.86L121.99 66.05L121.63 66.21L121.26 66.34L120.87 66.43L120.48 66.48L120.09 66.50L93.81 66.50L93.42 66.48L93.03 66.43L92.64 66.34L92.27 66.21L91.91 66.05L91.56 65.86L91.22 65.63L90.91 65.38L90.62 65.09L90.36 64.79L90.12 64.45L89.90 64.10L89.72 63.73L89.57 63.34L89.45 62.94L89.37 62.53L89.32 62.12L89.30 61.70L89.32 61.28L89.37 60.87L89.45 60.46L89.57 60.06L89.72 59.67L89.90 59.30L90.12 58.95L90.36 58.61L90.62 58.31L90.91 58.02L91.22 57.77L91.56 57.54L91.91 57.35L92.27 57.19L92.64 57.06L93.03 56.97L93.42 56.92L93.81 56.90Z" fill="rgb(0,0,0)"/>
<path d="M160.37 55.22L160.80 55.24L161.22 55.29L161.64 55.38L162.05 55.51L162.45 55.68L162.83 55.89L163.20 56.13L163.54 56.40L163.85 56.71L164.15 57.04L164.41 57.40L164.64 57.78L164.84 58.19L165.00 58.61L165.13 59.04L165.23 59.49L165.28 59.94L165.30 60.40L165.28 60.86L165.23 61.31L165.13 61.76L165.00 62.20L164.84 62.63L164.64 63.03L164.41 63.42L164.15 63.79L163.85 64.13L163.54 64.45L163.20 64.73L162.83 64.98L162.45 65.20L162.05 65.38L161.64 65.52L161.22 65.63L160.80 65.70L160.37 65.72L136.03 66.08L135.60 66.06L135.18 66.01L134.76 65.92L134.35 65.79L133.95 65.62L133.57 65.41L133.20 65.17L132.86 64.90L132.55 64.59L132.25 64.26L131.99 63.90L131.76 63.52L131.56 63.11L131.40 62.69L131.27 62.26L131.17 61.81L131.12 61.36L131.10 60.90L131.12 60.44L131.17 59.99L131.27 59.54L131.40 59.10L131.56 58.67L131.76 58.27L131.99 57.88L132.25 57.51L132.55 57.17L132.86 56.85L133.20 56.57L133.57 56.32L133.95 56.10L134.35 55.92L134.76 55.78L135.18 55.67L135.60 55.60L136.03 55.58Z" fill="rgb(0,0,0)"/>
<path d="M201.38 58.80L201.75 58.81L202.11 58.84L202.47 58.90L202.82 58.97L203.16 59.06L203.49 59.17L203.80 59.29L204.09 59.43L204.36 59.58L204.61 59.75L204.84 59.93L205.03 60.12L205.20 60.32L205.35 60.52L205.46 60.74L205.54 60.96L205.58 61.18L205.60 61.40L205.58 61.62L205.54 61.85L205.46 62.07L205.35 62.28L205.20 62.49L205.03 62.69L204.84 62.89L204.61 63.07L204.36 63.24L204.09 63.40L203.80 63.55L203.49 63.68L203.16 63.79L202.82 63.89L202.47 63.96L202.11 64.02L201.75 64.06L201.38 64.08L178.82 64.72L178.45 64.72L178.09 64.69L177.73 64.64L177.38 64.57L177.04 64.48L176.71 64.36L176.40 64.22L176.11 64.07L175.84 63.89L175.59 63.69L175.36 63.48L175.17 63.26L175.00 63.02L174.85 62.77L174.74 62.51L174.66 62.24L174.62 61.97L174.60 61.70L174.62 61.43L174.66 61.16L174.74 60.89L174.85 60.63L175.00 60.37L175.17 60.13L175.36 59.90L175.59 59.69L175.84 59.49L176.11 59.31L176.40 59.14L176.71 59.00L177.04 58.88L177.38 58.78L177.73 58.70L178.09 58.64L178.45 58.61L178.82 58.60Z" fill="rgb(20,20,20)"/>
<path d="M194.09 59.89L194.42 59.89L194.74 59.92L195.06 59.95L195.37 59.99L195.68 60.05L195.97 60.11L196.25 60.19L196.51 60.27L196.75 60.37L196.97 60.47L197.17 60.58L197.35 60.69L197.50 60.81L197.62 60.93L197.72 61.06L197.79 61.19L197.84 61.33L197.85 61.46L197.84 61.59L197.79 61.73L197.72 61.86L197.62 61.99L197.50 62.12L197.35 62.24L197.17 62.36L196.97 62.47L196.75 62.58L196.51 62.67L196.25 62.76L195.97 62.85L195.68 62.92L195.37 62.98L195.06 63.03L194.74 63.07L194.42 63.10L194.09 63.11L184.56 63.41L184.23 63.41L183.91 63.40L183.59 63.37L183.28 63.33L182.97 63.28L182.68 63.22L182.40 63.14L182.14 63.05L181.90 62.94L181.68 62.83L181.48 62.70L181.30 62.57L181.15 62.43L181.03 62.28L180.93 62.12L180.86 61.97L180.81 61.80L180.80 61.64L180.81 61.48L180.86 61.31L180.93 61.15L181.03 61.00L181.15 60.84L181.30 60.70L181.48 60.56L181.68 60.43L181.90 60.31L182.14 60.21L182.40 60.11L182.68 60.02L182.97 59.95L183.28 59.89L183.59 59.85L183.91 59.82L184.23 59.80L184.56 59.79Z" fill="rgb(20,20,20)"/>
<path d="M243.65 56.00L244.05 56.02L244.45 56.08L244.85 56.17L245.24 56.30L245.61 56.46L245.97 56.66L246.32 56.90L246.64 57.16L246.94 57.45L247.21 57.77L247.46 58.11L247.68 58.48L247.86 58.86L248.02 59.26L248.14 59.67L248.23 60.09L248.28 60.52L248.30 60.95L248.28 61.38L248.23 61.81L248.14 62.23L248.02 62.64L247.86 63.04L247.68 63.43L247.46 63.79L247.21 64.13L246.94 64.45L246.64 64.74L246.32 65.00L245.97 65.24L245.61 65.44L245.24 65.60L244.85 65.73L244.45 65.82L244.05 65.88L243.65 65.90L218.75 65.90L218.35 65.88L217.95 65.82L217.55 65.73L217.16 65.60L216.79 65.44L216.43 65.24L216.08 65.00L215.76 64.74L215.46 64.45L215.19 64.13L214.94 63.79L214.72 63.43L214.54 63.04L214.38 62.64L214.26 62.23L214.17 61.81L214.12 61.38L214.10 60.95L214.12 60.52L214.17 60.09L214.26 59.67L214.38 59.26L214.54 58.86L214.72 58.48L214.94 58.11L215.19 57.77L215.46 57.45L215.76 57.16L216.08 56.90L216.43 56.66L216.79 56.46L217.16 56.30L217.55 56.17L217.95 56.08L218.35 56.02L218.75 56.00Z" fill="rgb(0,0,0)"/>
<path d="M284.96 55.59L285.40 55.61L285.82 55.68L286.24 55.78L286.65 55.92L287.05 56.09L287.43 56.30L287.80 56.54L288.14 56.81L288.45 57.11L288.75 57.43L289.01 57.78L289.24 58.15L289.44 58.54L289.60 58.94L289.73 59.36L289.83 59.78L289.88 60.22L289.90 60.65L289.88 61.08L289.83 61.52L289.73 61.94L289.60 62.36L289.44 62.76L289.24 63.15L289.01 63.52L288.75 63.87L288.45 64.19L288.14 64.49L287.80 64.76L287.43 65.00L287.05 65.21L286.65 65.38L286.24 65.52L285.82 65.62L285.40 65.69L284.96 65.71L260.04 66.09L259.60 66.07L259.18 66.02L258.76 65.92L258.35 65.78L257.95 65.61L257.57 65.39L257.20 65.14L256.86 64.85L256.55 64.53L256.25 64.18L255.99 63.80L255.76 63.40L255.56 62.98L255.40 62.53L255.27 62.08L255.17 61.61L255.12 61.13L255.10 60.65L255.12 60.17L255.17 59.69L255.27 59.22L255.40 58.77L255.56 58.32L255.76 57.90L255.99 57.50L256.25 57.12L256.55 56.77L256.86 56.45L257.20 56.16L257.57 55.91L257.95 55.69L258.35 55.52L258.76 55.38L259.18 55.28L259.60 55.23L260.04 55.21Z" fill="rgb(0,0,0)"/>
<path d="M328.01 57.40L328.41 57.40L328.81 57.42L329.20 57.46L329.58 57.53L329.95 57.60L330.31 57.70L330.64 57.81L330.96 57.94L331.26 58.08L331.53 58.24L331.77 58.40L331.99 58.58L332.17 58.77L332.32 58.96L332.44 59.16L332.53 59.37L332.58 59.58L332.60 59.80L332.58 60.02L332.53 60.23L332.44 60.45L332.32 60.67L332.17 60.88L331.99 61.08L331.77 61.28L331.53 61.48L331.26 61.66L330.96 61.83L330.64 61.99L330.31 62.14L329.95 62.27L329.58 62.39L329.20 62.49L328.81 62.58L328.41 62.64L328.01 62.69L302.99 64.91L302.59 64.93L302.19 64.93L301.80 64.90L301.42 64.83L301.05 64.74L300.69 64.63L300.36 64.49L300.04 64.32L299.74 64.13L299.47 63.91L299.23 63.67L299.01 63.42L298.83 63.14L298.68 62.85L298.56 62.55L298.47 62.24L298.42 61.92L298.40 61.60L298.42 61.27L298.47 60.95L298.56 60.63L298.68 60.32L298.83 60.01L299.01 59.72L299.23 59.44L299.47 59.18L299.74 58.93L300.04 58.71L300.36 58.51L300.69 58.33L301.05 58.18L301.42 58.05L301.80 57.95L302.19 57.87L302.59 57.83L302.99 57.80Z" fill="rgb(20,20,20)"/>
<path d="M319.96 58.75L320.31 58.74L320.67 58.76L321.02 58.78L321.36 58.82L321.69 58.86L322.00 58.92L322.31 58.98L322.59 59.06L322.85 59.14L323.09 59.23L323.31 59.33L323.50 59.44L323.67 59.55L323.80 59.66L323.91 59.78L323.99 59.90L324.03 60.03L324.05 60.16L324.03 60.29L323.99 60.42L323.91 60.55L323.80 60.69L323.67 60.82L323.50 60.95L323.31 61.07L323.09 61.20L322.85 61.31L322.59 61.43L322.31 61.54L322.00 61.64L321.69 61.73L321.36 61.81L321.02 61.89L320.67 61.95L320.31 62.00L319.96 62.04L309.33 63.08L308.98 63.10L308.62 63.11L308.27 63.11L307.93 63.08L307.60 63.04L307.29 62.99L306.98 62.91L306.70 62.82L306.44 62.72L306.20 62.60L305.98 62.46L305.79 62.31L305.62 62.15L305.49 61.99L305.38 61.81L305.30 61.62L305.26 61.43L305.24 61.24L305.26 61.04L305.30 60.85L305.38 60.66L305.49 60.47L305.62 60.28L305.79 60.10L305.98 59.93L306.20 59.77L306.44 59.63L306.70 59.49L306.98 59.37L307.29 59.26L307.60 59.17L307.93 59.09L308.27 59.03L308.62 58.98L308.98 58.95L309.33 58.93Z" fill="rgb(20,20,20)"/>
<path d="M31.87 127.30L32.37 127.32L32.86 127.39L33.35 127.51L33.83 127.67L34.29 127.87L34.73 128.12L35.15 128.40L35.55 128.73L35.92 129.09L36.26 129.48L36.56 129.90L36.83 130.35L37.06 130.82L37.25 131.31L37.40 131.82L37.51 132.34L37.58 132.87L37.60 133.40L37.58 133.93L37.51 134.46L37.40 134.98L37.25 135.49L37.06 135.98L36.83 136.45L36.56 136.90L36.26 137.32L35.92 137.71L35.55 138.07L35.15 138.40L34.73 138.68L34.29 138.93L33.83 139.13L33.35 139.29L32.86 139.41L32.37 139.48L31.87 139.50L7.83 139.50L7.33 139.48L6.84 139.41L6.35 139.29L5.87 139.13L5.41 138.93L4.97 138.68L4.55 138.40L4.15 138.07L3.78 137.71L3.44 137.32L3.14 136.90L2.87 136.45L2.64 135.98L2.45 135.49L2.30 134.98L2.19 134.46L2.12 133.93L2.10 133.40L2.12 132.87L2.19 132.34L2.30 131.82L2.45 131.31L2.64 130.82L2.87 130.35L3.14 129.90L3.44 129.48L3.78 129.09L4.15 128.73L4.55 128.40L4.97 128.12L5.41 127.87L5.87 127.67L6.35 127.51L6.84 127.39L7.33 127.32L7.83 127.30Z" fill="rgb(0,0,0)"/>
<path d="M72.97 125.60L73.61 125.63L74.24 125.72L74.87 125.87L75.48 126.07L76.07 126.33L76.63 126.65L77.17 127.01L77.68 127.42L78.15 127.88L78.58 128.39L78.97 128.93L79.32 129.50L79.61 130.10L79.86 130.73L80.05 131.38L80.19 132.05L80.27 132.72L80.30 133.40L80.27 134.08L80.19 134.75L80.05 135.42L79.86 136.07L79.61 136.70L79.32 137.30L78.97 137.87L78.58 138.41L78.15 138.92L77.68 139.38L77.17 139.79L76.63 140.15L76.07 140.47L75.48 140.73L74.87 140.93L74.24 141.08L73.61 141.17L72.97 141.20L48.93 141.20L48.29 141.17L47.66 141.08L47.03 140.93L46.42 140.73L45.83 140.47L45.27 140.15L44.73 139.79L44.22 139.38L43.75 138.92L43.32 138.41L42.93 137.87L42.58 137.30L42.29 136.70L42.04 136.07L41.85 135.42L41.71 134.75L41.63 134.08L41.60 133.40L41.63 132.72L41.71 132.05L41.85 131.38L42.04 130.73L42.29 130.10L42.58 129.50L42.93 128.93L43.32 128.39L43.75 127.88L44.22 127.42L44.73 127.01L45.27 126.65L45.83 126.33L46.42 126.07L47.03 125.87L47.66 125.72L48.29 125.63L48.93 125.60Z" fill="rgb(0,0,0)"/>
<path d="M114.57 126.70L115.21 126.73L115.84 126.82L116.47 126.97L117.08 127.17L117.67 127.43L118.23 127.75L118.77 128.11L119.28 128.52L119.75 128.98L120.18 129.49L120.57 130.03L120.92 130.60L121.21 131.20L121.46 131.83L121.65 132.48L121.79 133.15L121.87 133.82L121.90 134.50L121.87 135.18L121.79 135.85L121.65 136.52L121.46 137.17L121.21 137.80L120.92 138.40L120.57 138.97L120.18 139.51L119.75 140.02L119.28 140.48L118.77 140.89L118.23 141.25L117.67 141.57L117.08 141.83L116.47 142.03L115.84 142.18L115.21 142.27L114.57 142.30L91.63 142.30L90.99 142.27L90.36 142.18L89.73 142.03L89.12 141.83L88.53 141.57L87.97 141.25L87.43 140.89L86.92 140.48L86.45 140.02L86.02 139.51L85.63 138.97L85.28 138.40L84.99 137.80L84.74 137.17L84.55 136.52L84.41 135.85L84.33 135.18L84.30 134.50L84.33 133.82L84.41 133.15L84.55 132.48L84.74 131.83L84.99 131.20L85.28 130.60L85.63 130.03L86.02 129.49L86.45 128.98L86.92 128.52L87.43 128.11L87.97 127.75L88.53 127.43L89.12 127.17L89.73 126.97L90.36 126.82L90.99 126.73L91.63 126.70Z" fill="rgb(0,0,0)"/>
<path d="M156.27 128.40L156.77 128.42L157.26 128.49L157.75 128.61L158.23 128.77L158.69 128.97L159.13 129.22L159.55 129.50L159.95 129.83L160.32 130.19L160.66 130.58L160.96 131.00L161.23 131.45L161.46 131.92L161.65 132.41L161.80 132.92L161.91 133.44L161.98 133.97L162.00 134.50L161.98 135.03L161.91 135.56L161.80 136.08L161.65 136.59L161.46 137.08L161.23 137.55L160.96 138.00L160.66 138.42L160.32 138.81L159.95 139.17L159.55 139.50L159.13 139.78L158.69 140.03L158.23 140.23L157.75 140.39L157.26 140.51L156.77 140.58L156.27 140.60L131.33 140.60L130.83 140.58L130.34 140.51L129.85 140.39L129.37 140.23L128.91 140.03L128.47 139.78L128.05 139.50L127.65 139.17L127.28 138.81L126.94 138.42L126.64 138.00L126.37 137.55L126.14 137.08L125.95 136.59L125.80 136.08L125.69 135.56L125.62 135.03L125.60 134.50L125.62 133.97L125.69 133.44L125.80 132.92L125.95 132.41L126.14 131.92L126.37 131.45L126.64 131.00L126.94 130.58L127.28 130.19L127.65 129.83L128.05 129.50L128.47 129.22L128.91 128.97L129.37 128.77L129.85 128.61L130.34 128.49L130.83 128.42L131.33 128.40Z" fill="rgb(0,0,0)"/>
<path d="M198.53 130.70L198.84 130.71L199.15 130.76L199.45 130.83L199.75 130.93L200.04 131.06L200.31 131.21L200.58 131.39L200.82 131.59L201.05 131.81L201.26 132.06L201.45 132.32L201.62 132.60L201.77 132.89L201.88 133.20L201.98 133.52L202.05 133.84L202.09 134.17L202.10 134.50L202.09 134.83L202.05 135.16L201.98 135.48L201.88 135.80L201.77 136.11L201.62 136.40L201.45 136.68L201.26 136.94L201.05 137.19L200.82 137.41L200.58 137.61L200.31 137.79L200.04 137.94L199.75 138.07L199.45 138.17L199.15 138.24L198.84 138.29L198.53 138.30L172.67 138.30L172.36 138.29L172.05 138.24L171.75 138.17L171.45 138.07L171.16 137.94L170.89 137.79L170.62 137.61L170.38 137.41L170.15 137.19L169.94 136.94L169.75 136.68L169.58 136.40L169.43 136.11L169.32 135.80L169.22 135.48L169.15 135.16L169.11 134.83L169.10 134.50L169.11 134.17L169.15 133.84L169.22 133.52L169.32 133.20L169.43 132.89L169.58 132.60L169.75 132.32L169.94 132.06L170.15 131.81L170.38 131.59L170.62 131.39L170.89 131.21L171.16 131.06L171.45 130.93L171.75 130.83L172.05 130.76L172.36 130.71L172.67 130.70Z" fill="rgb(0,0,0)"/>
<path d="M240.25 130.28L240.65 130.31L241.05 130.37L241.45 130.46L241.84 130.59L242.21 130.75L242.57 130.95L242.92 131.18L243.24 131.43L243.54 131.71L243.81 132.02L244.06 132.35L244.28 132.69L244.46 133.06L244.62 133.44L244.74 133.83L244.83 134.23L244.88 134.64L244.90 135.05L244.88 135.46L244.83 135.87L244.74 136.27L244.62 136.66L244.46 137.04L244.28 137.41L244.06 137.75L243.81 138.08L243.54 138.39L243.24 138.67L242.92 138.92L242.57 139.15L242.21 139.35L241.84 139.51L241.45 139.64L241.05 139.73L240.65 139.79L240.25 139.82L213.85 140.18L213.45 140.17L213.05 140.12L212.65 140.02L212.26 139.89L211.89 139.73L211.53 139.52L211.18 139.29L210.86 139.01L210.56 138.71L210.29 138.38L210.04 138.02L209.82 137.64L209.64 137.24L209.48 136.83L209.36 136.39L209.27 135.95L209.22 135.50L209.20 135.05L209.22 134.60L209.27 134.15L209.36 133.71L209.48 133.27L209.64 132.86L209.82 132.46L210.04 132.08L210.29 131.72L210.56 131.39L210.86 131.09L211.18 130.81L211.53 130.58L211.89 130.37L212.26 130.21L212.65 130.08L213.05 129.98L213.45 129.93L213.85 129.92Z" fill="rgb(0,0,0)"/>
<path d="M280.83 129.60L281.28 129.62L281.73 129.68L282.17 129.79L282.60 129.93L283.01 130.12L283.41 130.34L283.80 130.59L284.15 130.89L284.49 131.21L284.79 131.56L285.07 131.95L285.31 132.35L285.52 132.78L285.69 133.22L285.82 133.68L285.92 134.14L285.98 134.62L286.00 135.10L285.98 135.58L285.92 136.06L285.82 136.52L285.69 136.98L285.52 137.42L285.31 137.85L285.07 138.25L284.79 138.64L284.49 138.99L284.15 139.31L283.80 139.61L283.41 139.86L283.01 140.08L282.60 140.27L282.17 140.41L281.73 140.52L281.28 140.58L280.83 140.60L255.27 140.60L254.82 140.58L254.37 140.52L253.93 140.41L253.50 140.27L253.09 140.08L252.68 139.86L252.30 139.61L251.95 139.31L251.61 138.99L251.31 138.64L251.03 138.25L250.79 137.85L250.58 137.42L250.41 136.98L250.28 136.52L250.18 136.06L250.12 135.58L250.10 135.10L250.12 134.62L250.18 134.14L250.28 133.68L250.41 133.22L250.58 132.78L250.79 132.35L251.03 131.95L251.31 131.56L251.61 131.21L251.95 130.89L252.30 130.59L252.68 130.34L253.09 130.12L253.50 129.93L253.93 129.79L254.37 129.68L254.82 129.62L255.27 129.60Z" fill="rgb(0,0,0)"/>
<path d="M326.25 132.94L326.51 132.95L326.78 132.98L327.04 133.04L327.29 133.11L327.54 133.21L327.77 133.33L328.00 133.46L328.21 133.62L328.41 133.79L328.59 133.98L328.75 134.18L328.89 134.39L329.01 134.62L329.12 134.85L329.20 135.09L329.25 135.34L329.29 135.60L329.30 135.85L329.29 136.11L329.25 136.36L329.20 136.61L329.12 136.86L329.01 137.09L328.89 137.33L328.75 137.55L328.59 137.75L328.41 137.95L328.21 138.13L328.00 138.29L327.77 138.44L327.54 138.57L327.29 138.68L327.04 138.77L326.78 138.83L326.51 138.88L326.25 138.90L296.45 140.10L296.19 140.10L295.92 140.07L295.66 140.01L295.41 139.93L295.16 139.82L294.93 139.69L294.70 139.53L294.49 139.35L294.29 139.15L294.11 138.92L293.95 138.68L293.81 138.42L293.69 138.15L293.58 137.87L293.50 137.57L293.45 137.27L293.41 136.96L293.40 136.65L293.41 136.34L293.45 136.03L293.50 135.72L293.58 135.42L293.69 135.13L293.81 134.86L293.95 134.59L294.11 134.34L294.29 134.11L294.49 133.90L294.70 133.71L294.93 133.54L295.16 133.40L295.41 133.28L295.66 133.19L295.92 133.12L296.19 133.08L296.45 133.06Z" fill="rgb(0,0,0)"/>
<path d="M75.53 212.50L76.49 212.53L77.45 212.64L78.39 212.81L79.32 213.05L80.21 213.36L81.06 213.73L81.88 214.15L82.65 214.64L83.36 215.18L84.01 215.77L84.60 216.40L85.12 217.07L85.56 217.78L85.93 218.52L86.22 219.28L86.43 220.06L86.56 220.85L86.60 221.65L86.56 222.45L86.43 223.24L86.22 224.02L85.93 224.78L85.56 225.52L85.12 226.22L84.60 226.90L84.01 227.53L83.36 228.12L82.65 228.66L81.88 229.15L81.06 229.57L80.21 229.94L79.32 230.25L78.39 230.49L77.45 230.66L76.49 230.77L75.53 230.80L53.77 230.80L52.81 230.77L51.85 230.66L50.91 230.49L49.98 230.25L49.09 229.94L48.24 229.57L47.42 229.15L46.65 228.66L45.94 228.12L45.29 227.53L44.70 226.90L44.18 226.23L43.74 225.52L43.37 224.78L43.08 224.02L42.87 223.24L42.74 222.45L42.70 221.65L42.74 220.85L42.87 220.06L43.08 219.28L43.37 218.52L43.74 217.78L44.18 217.08L44.70 216.40L45.29 215.77L45.94 215.18L46.65 214.64L47.42 214.15L48.24 213.73L49.09 213.36L49.98 213.05L50.91 212.81L51.85 212.64L52.81 212.53L53.77 212.50Z" fill="rgb(0,0,0)"/>
<path d="M118.04 213.70L118.85 213.73L119.65 213.82L120.44 213.96L121.21 214.16L121.96 214.42L122.67 214.72L123.35 215.08L123.99 215.49L124.59 215.94L125.13 216.43L125.63 216.96L126.06 217.52L126.43 218.12L126.74 218.73L126.98 219.37L127.16 220.02L127.26 220.68L127.30 221.35L127.26 222.02L127.16 222.68L126.98 223.33L126.74 223.97L126.43 224.58L126.06 225.17L125.63 225.74L125.13 226.27L124.59 226.76L123.99 227.21L123.35 227.62L122.67 227.98L121.96 228.28L121.21 228.54L120.44 228.74L119.65 228.88L118.85 228.97L118.04 229.00L94.96 229.00L94.15 228.97L93.35 228.88L92.56 228.74L91.79 228.54L91.04 228.28L90.33 227.98L89.65 227.62L89.01 227.21L88.41 226.76L87.87 226.27L87.37 225.74L86.94 225.18L86.57 224.58L86.26 223.97L86.02 223.33L85.84 222.68L85.74 222.02L85.70 221.35L85.74 220.68L85.84 220.02L86.02 219.37L86.26 218.73L86.57 218.12L86.94 217.53L87.37 216.96L87.87 216.43L88.41 215.94L89.01 215.49L89.65 215.08L90.33 214.72L91.04 214.42L91.79 214.16L92.56 213.96L93.35 213.82L94.15 213.73L94.96 213.70Z" fill="rgb(0,0,0)"/>
<path d="M158.58 214.20L159.33 214.22L160.06 214.30L160.79 214.42L161.50 214.60L162.18 214.81L162.84 215.08L163.47 215.38L164.06 215.73L164.61 216.12L165.11 216.54L165.56 216.99L165.96 217.47L166.30 217.98L166.59 218.51L166.81 219.05L166.97 219.61L167.07 220.18L167.10 220.75L167.07 221.32L166.97 221.89L166.81 222.45L166.59 222.99L166.30 223.52L165.96 224.03L165.56 224.51L165.11 224.96L164.61 225.38L164.06 225.77L163.47 226.12L162.84 226.42L162.18 226.69L161.50 226.90L160.79 227.08L160.06 227.20L159.33 227.28L158.58 227.30L137.52 227.30L136.77 227.28L136.04 227.20L135.31 227.08L134.60 226.90L133.92 226.69L133.26 226.42L132.63 226.12L132.04 225.77L131.49 225.38L130.99 224.96L130.54 224.51L130.14 224.03L129.80 223.52L129.51 222.99L129.29 222.45L129.13 221.89L129.03 221.32L129.00 220.75L129.03 220.18L129.13 219.61L129.29 219.05L129.51 218.51L129.80 217.98L130.14 217.47L130.54 216.99L130.99 216.54L131.49 216.12L132.04 215.73L132.63 215.38L133.26 215.08L133.92 214.81L134.60 214.60L135.31 214.42L136.04 214.30L136.77 214.22L137.52 214.20Z" fill="rgb(0,0,0)"/>
<path d="M37.12 296.90L37.86 296.89L38.59 296.91L39.32 296.98L40.02 297.09L40.70 297.24L41.36 297.42L41.98 297.65L42.57 297.91L43.12 298.20L43.62 298.52L44.07 298.88L44.46 299.25L44.81 299.66L45.09 300.08L45.31 300.52L45.47 300.97L45.57 301.43L45.60 301.90L45.57 302.37L45.47 302.84L45.31 303.31L45.09 303.77L44.81 304.22L44.46 304.65L44.07 305.07L43.62 305.47L43.12 305.84L42.57 306.18L41.98 306.49L41.36 306.78L40.70 307.03L40.02 307.24L39.32 307.41L38.59 307.55L37.86 307.65L37.12 307.70L11.88 308.90L11.14 308.91L10.41 308.89L9.68 308.82L8.98 308.71L8.30 308.56L7.64 308.38L7.02 308.15L6.43 307.89L5.88 307.60L5.38 307.28L4.93 306.92L4.54 306.55L4.19 306.14L3.91 305.72L3.69 305.28L3.53 304.83L3.43 304.37L3.40 303.90L3.43 303.43L3.53 302.96L3.69 302.49L3.91 302.03L4.19 301.58L4.54 301.15L4.93 300.73L5.38 300.33L5.88 299.96L6.43 299.62L7.02 299.31L7.64 299.02L8.30 298.77L8.98 298.56L9.68 298.39L10.41 298.25L11.14 298.15L11.88 298.10Z" fill="rgb(0,0,0)"/>
<path d="M77.29 296.40L77.95 296.42L78.61 296.47L79.26 296.57L79.89 296.69L80.50 296.85L81.09 297.05L81.65 297.28L82.18 297.53L82.67 297.82L83.12 298.13L83.52 298.47L83.88 298.82L84.19 299.20L84.44 299.59L84.64 299.99L84.78 300.41L84.87 300.83L84.90 301.25L84.87 301.67L84.78 302.09L84.64 302.51L84.44 302.91L84.19 303.30L83.88 303.68L83.52 304.03L83.12 304.37L82.67 304.68L82.18 304.97L81.65 305.22L81.09 305.45L80.50 305.65L79.89 305.81L79.26 305.93L78.61 306.03L77.95 306.08L77.29 306.10L52.51 306.10L51.85 306.08L51.19 306.03L50.54 305.93L49.91 305.81L49.30 305.65L48.71 305.45L48.15 305.22L47.62 304.97L47.13 304.68L46.68 304.37L46.28 304.03L45.92 303.68L45.61 303.30L45.36 302.91L45.16 302.51L45.02 302.09L44.93 301.67L44.90 301.25L44.93 300.83L45.02 300.41L45.16 299.99L45.36 299.59L45.61 299.20L45.92 298.82L46.28 298.47L46.68 298.13L47.13 297.82L47.62 297.53L48.15 297.28L48.71 297.05L49.30 296.85L49.91 296.69L50.54 296.57L51.19 296.47L51.85 296.42L52.51 296.40Z" fill="rgb(0,0,0)"/>
<path d="M117.41 295.65L118.12 295.66L118.82 295.71L119.51 295.80L120.18 295.93L120.83 296.09L121.46 296.29L122.05 296.52L122.61 296.79L123.13 297.09L123.61 297.41L124.04 297.76L124.42 298.14L124.74 298.53L125.01 298.94L125.22 299.37L125.38 299.81L125.47 300.25L125.50 300.70L125.47 301.15L125.38 301.60L125.22 302.04L125.01 302.47L124.74 302.89L124.42 303.29L124.04 303.67L123.61 304.03L123.13 304.37L122.61 304.68L122.05 304.96L121.46 305.21L120.83 305.42L120.18 305.60L119.51 305.75L118.82 305.85L118.12 305.92L117.41 305.95L92.49 306.25L91.78 306.24L91.08 306.19L90.39 306.10L89.72 305.97L89.07 305.81L88.44 305.61L87.85 305.38L87.29 305.11L86.77 304.81L86.29 304.49L85.86 304.14L85.48 303.76L85.16 303.37L84.89 302.96L84.68 302.53L84.52 302.09L84.43 301.65L84.40 301.20L84.43 300.75L84.52 300.30L84.68 299.86L84.89 299.43L85.16 299.01L85.48 298.61L85.86 298.23L86.29 297.87L86.77 297.53L87.29 297.22L87.85 296.94L88.44 296.69L89.07 296.48L89.72 296.30L90.39 296.15L91.08 296.05L91.78 295.98L92.49 295.95Z" fill="rgb(0,0,0)"/>
<path d="M156.95 293.96L157.73 293.97L158.50 294.03L159.27 294.12L160.01 294.26L160.73 294.45L161.43 294.67L162.08 294.93L162.70 295.22L163.28 295.55L163.81 295.91L164.28 296.30L164.70 296.71L165.06 297.15L165.36 297.61L165.60 298.08L165.76 298.56L165.87 299.05L165.90 299.55L165.87 300.05L165.76 300.54L165.60 301.03L165.36 301.51L165.06 301.97L164.70 302.41L164.28 302.84L163.81 303.24L163.28 303.61L162.70 303.95L162.08 304.26L161.43 304.54L160.73 304.78L160.01 304.98L159.27 305.14L158.50 305.25L157.73 305.33L156.95 305.36L133.15 305.64L132.37 305.63L131.60 305.57L130.83 305.48L130.09 305.34L129.37 305.15L128.67 304.93L128.02 304.67L127.40 304.38L126.82 304.05L126.29 303.69L125.82 303.30L125.40 302.89L125.04 302.45L124.74 301.99L124.50 301.52L124.34 301.04L124.23 300.55L124.20 300.05L124.23 299.55L124.34 299.06L124.50 298.57L124.74 298.09L125.04 297.63L125.40 297.19L125.82 296.76L126.29 296.36L126.82 295.99L127.40 295.65L128.02 295.34L128.67 295.06L129.37 294.82L130.09 294.62L130.83 294.46L131.60 294.35L132.37 294.27L133.15 294.24Z" fill="rgb(0,0,0)"/>
<path d="M198.48 293.50L199.30 293.52L200.12 293.59L200.92 293.70L201.70 293.86L202.46 294.06L203.19 294.30L203.88 294.59L204.54 294.90L205.14 295.26L205.70 295.64L206.20 296.06L206.64 296.50L207.02 296.96L207.33 297.45L207.58 297.95L207.76 298.46L207.86 298.98L207.90 299.50L207.86 300.02L207.76 300.54L207.58 301.05L207.33 301.55L207.02 302.04L206.64 302.50L206.20 302.94L205.70 303.36L205.14 303.74L204.54 304.10L203.88 304.41L203.19 304.70L202.46 304.94L201.70 305.14L200.92 305.30L200.12 305.41L199.30 305.48L198.48 305.50L173.92 305.50L173.10 305.48L172.28 305.41L171.48 305.30L170.70 305.14L169.94 304.94L169.21 304.70L168.52 304.41L167.86 304.10L167.26 303.74L166.70 303.36L166.20 302.94L165.76 302.50L165.38 302.04L165.07 301.55L164.82 301.05L164.64 300.54L164.54 300.02L164.50 299.50L164.54 298.98L164.64 298.46L164.82 297.95L165.07 297.45L165.38 296.96L165.76 296.50L166.20 296.06L166.70 295.64L167.26 295.26L167.86 294.90L168.52 294.59L169.21 294.30L169.94 294.06L170.70 293.86L171.48 293.70L172.28 293.59L173.10 293.52L173.92 293.50Z" fill="rgb(0,0,0)"/>
<path d="M241.68 294.70L242.40 294.72L243.12 294.78L243.83 294.88L244.52 295.02L245.20 295.20L245.84 295.41L246.45 295.66L247.03 295.94L247.56 296.25L248.05 296.59L248.50 296.96L248.89 297.35L249.22 297.76L249.50 298.19L249.72 298.63L249.87 299.08L249.97 299.54L250.00 300.00L249.97 300.46L249.87 300.92L249.72 301.37L249.50 301.81L249.22 302.24L248.89 302.65L248.50 303.04L248.05 303.41L247.56 303.75L247.03 304.06L246.45 304.34L245.84 304.59L245.20 304.80L244.52 304.98L243.83 305.12L243.12 305.22L242.40 305.28L241.68 305.30L215.52 305.30L214.80 305.28L214.08 305.22L213.37 305.12L212.68 304.98L212.00 304.80L211.36 304.59L210.75 304.34L210.17 304.06L209.64 303.75L209.15 303.41L208.70 303.04L208.31 302.65L207.98 302.24L207.70 301.81L207.48 301.37L207.33 300.92L207.23 300.46L207.20 300.00L207.23 299.54L207.33 299.08L207.48 298.63L207.70 298.19L207.98 297.76L208.31 297.35L208.70 296.96L209.15 296.59L209.64 296.25L210.17 295.94L210.75 295.66L211.36 295.41L212.00 295.20L212.68 295.02L213.37 294.88L214.08 294.78L214.80 294.72L215.52 294.70Z" fill="rgb(0,0,0)"/>
<path d="M282.12 295.30L282.86 295.32L283.59 295.38L284.32 295.48L285.02 295.63L285.70 295.81L286.36 296.02L286.98 296.28L287.57 296.56L288.12 296.88L288.62 297.23L289.07 297.60L289.46 298.00L289.81 298.42L290.09 298.85L290.31 299.30L290.47 299.76L290.57 300.23L290.60 300.70L290.57 301.17L290.47 301.64L290.31 302.10L290.09 302.55L289.81 302.98L289.46 303.40L289.07 303.80L288.62 304.17L288.12 304.52L287.57 304.84L286.98 305.12L286.36 305.38L285.70 305.59L285.02 305.77L284.32 305.92L283.59 306.02L282.86 306.08L282.12 306.10L256.88 306.10L256.14 306.08L255.41 306.02L254.68 305.92L253.98 305.77L253.30 305.59L252.64 305.38L252.02 305.12L251.43 304.84L250.88 304.52L250.38 304.17L249.93 303.80L249.54 303.40L249.19 302.98L248.91 302.55L248.69 302.10L248.53 301.64L248.43 301.17L248.40 300.70L248.43 300.23L248.53 299.76L248.69 299.30L248.91 298.85L249.19 298.42L249.54 298.00L249.93 297.60L250.38 297.23L250.88 296.88L251.43 296.56L252.02 296.28L252.64 296.02L253.30 295.81L253.98 295.63L254.68 295.48L255.41 295.38L256.14 295.32L256.88 295.30Z" fill="rgb(0,0,0)"/>
<path d="M323.77 292.79L324.66 292.79L325.53 292.83L326.39 292.92L327.24 293.06L328.05 293.25L328.84 293.48L329.58 293.76L330.28 294.08L330.93 294.44L331.53 294.83L332.07 295.26L332.54 295.72L332.95 296.21L333.29 296.71L333.55 297.24L333.75 297.79L333.86 298.34L333.90 298.90L333.86 299.46L333.75 300.03L333.55 300.58L333.29 301.13L332.95 301.66L332.54 302.17L332.07 302.66L331.53 303.13L330.93 303.56L330.28 303.96L329.58 304.33L328.84 304.66L328.05 304.94L327.24 305.19L326.39 305.38L325.53 305.53L324.66 305.64L323.77 305.69L299.53 306.51L298.64 306.51L297.77 306.47L296.91 306.38L296.06 306.24L295.25 306.05L294.46 305.82L293.72 305.54L293.02 305.22L292.37 304.86L291.77 304.47L291.23 304.04L290.76 303.58L290.35 303.09L290.01 302.59L289.75 302.06L289.55 301.51L289.44 300.96L289.40 300.40L289.44 299.84L289.55 299.27L289.75 298.72L290.01 298.17L290.35 297.64L290.76 297.13L291.23 296.64L291.77 296.17L292.37 295.74L293.02 295.34L293.72 294.97L294.46 294.64L295.25 294.36L296.06 294.11L296.91 293.92L297.77 293.77L298.64 293.66L299.53 293.61Z" fill="rgb(0,0,0)"/>
<path d="M43.58 375.00L44.30 375.02L45.01 375.10L45.71 375.22L46.39 375.40L47.05 375.61L47.69 375.88L48.29 376.18L48.86 376.53L49.39 376.92L49.88 377.34L50.31 377.79L50.70 378.27L51.03 378.78L51.30 379.31L51.52 379.85L51.68 380.41L51.77 380.98L51.80 381.55L51.77 382.12L51.68 382.69L51.52 383.25L51.30 383.79L51.03 384.32L50.70 384.82L50.31 385.31L49.88 385.76L49.39 386.18L48.86 386.57L48.29 386.92L47.69 387.22L47.05 387.49L46.39 387.70L45.71 387.88L45.01 388.00L44.30 388.08L43.58 388.10L19.42 388.10L18.70 388.08L17.99 388.00L17.29 387.88L16.61 387.70L15.95 387.49L15.31 387.22L14.71 386.92L14.14 386.57L13.61 386.18L13.12 385.76L12.69 385.31L12.30 384.83L11.97 384.32L11.70 383.79L11.48 383.25L11.32 382.69L11.23 382.12L11.20 381.55L11.23 380.98L11.32 380.41L11.48 379.85L11.70 379.31L11.97 378.78L12.30 378.28L12.69 377.79L13.12 377.34L13.61 376.92L14.14 376.53L14.71 376.18L15.31 375.88L15.95 375.61L16.61 375.40L17.29 375.22L17.99 375.10L18.70 375.02L19.42 375.00Z" fill="rgb(0,0,0)"/>
<path d="M85.71 377.30L86.33 377.32L86.94 377.39L87.54 377.49L88.13 377.64L88.71 377.83L89.25 378.06L89.78 378.32L90.27 378.62L90.72 378.95L91.14 379.32L91.52 379.71L91.85 380.13L92.14 380.56L92.37 381.02L92.56 381.49L92.69 381.97L92.77 382.46L92.80 382.95L92.77 383.44L92.69 383.93L92.56 384.41L92.37 384.88L92.14 385.34L91.85 385.78L91.52 386.19L91.14 386.58L90.72 386.95L90.27 387.28L89.78 387.58L89.25 387.84L88.71 388.07L88.13 388.26L87.54 388.41L86.94 388.51L86.33 388.58L85.71 388.60L57.59 388.60L56.97 388.58L56.36 388.51L55.76 388.41L55.17 388.26L54.59 388.07L54.05 387.84L53.52 387.58L53.03 387.28L52.58 386.95L52.16 386.58L51.78 386.19L51.45 385.78L51.16 385.34L50.93 384.88L50.74 384.41L50.61 383.93L50.53 383.44L50.50 382.95L50.53 382.46L50.61 381.97L50.74 381.49L50.93 381.02L51.16 380.56L51.45 380.13L51.78 379.71L52.16 379.32L52.58 378.95L53.03 378.62L53.52 378.32L54.05 378.06L54.59 377.83L55.17 377.64L55.76 377.49L56.36 377.39L56.97 377.32L57.59 377.30Z" fill="rgb(0,0,0)"/>
<path d="M126.24 377.00L126.91 377.02L127.57 377.09L128.23 377.21L128.86 377.37L129.48 377.57L130.07 377.82L130.64 378.10L131.17 378.43L131.66 378.79L132.11 379.18L132.52 379.60L132.87 380.05L133.18 380.52L133.44 381.01L133.64 381.52L133.78 382.04L133.87 382.57L133.90 383.10L133.87 383.63L133.78 384.16L133.64 384.68L133.44 385.19L133.18 385.68L132.87 386.15L132.52 386.60L132.11 387.02L131.66 387.41L131.17 387.77L130.64 388.10L130.07 388.38L129.48 388.63L128.86 388.83L128.23 388.99L127.57 389.11L126.91 389.18L126.24 389.20L99.86 389.20L99.19 389.18L98.53 389.11L97.87 388.99L97.24 388.83L96.62 388.63L96.03 388.38L95.46 388.10L94.93 387.77L94.44 387.41L93.99 387.02L93.58 386.60L93.23 386.15L92.92 385.68L92.66 385.19L92.46 384.68L92.32 384.16L92.23 383.63L92.20 383.10L92.23 382.57L92.32 382.04L92.46 381.52L92.66 381.01L92.92 380.52L93.23 380.05L93.58 379.60L93.99 379.18L94.44 378.79L94.93 378.43L95.46 378.10L96.03 377.82L96.62 377.57L97.24 377.37L97.87 377.21L98.53 377.09L99.19 377.02L99.86 377.00Z" fill="rgb(0,0,0)"/>
<path d="M166.46 376.70L167.14 376.72L167.82 376.79L168.49 376.91L169.14 377.08L169.77 377.29L170.38 377.54L170.96 377.83L171.50 378.16L172.00 378.53L172.46 378.93L172.88 379.37L173.25 379.82L173.57 380.31L173.83 380.81L174.03 381.33L174.18 381.86L174.27 382.41L174.30 382.95L174.27 383.49L174.18 384.04L174.03 384.57L173.83 385.09L173.57 385.59L173.25 386.07L172.88 386.53L172.46 386.97L172.00 387.37L171.50 387.74L170.96 388.07L170.38 388.36L169.77 388.61L169.14 388.82L168.49 388.99L167.82 389.11L167.14 389.18L166.46 389.20L142.24 389.20L141.56 389.18L140.88 389.11L140.21 388.99L139.56 388.82L138.93 388.61L138.32 388.36L137.74 388.07L137.20 387.74L136.70 387.37L136.24 386.97L135.82 386.53L135.45 386.07L135.13 385.59L134.87 385.09L134.67 384.57L134.52 384.04L134.43 383.49L134.40 382.95L134.43 382.41L134.52 381.86L134.67 381.33L134.87 380.81L135.13 380.31L135.45 379.82L135.82 379.37L136.24 378.93L136.70 378.53L137.20 378.16L137.74 377.83L138.32 377.54L138.93 377.29L139.56 377.08L140.21 376.91L140.88 376.79L141.56 376.72L142.24 376.70Z" fill="rgb(0,0,0)"/>
<path d="M209.37 377.30L210.11 377.33L210.85 377.40L211.57 377.53L212.28 377.71L212.97 377.94L213.63 378.21L214.26 378.53L214.85 378.89L215.40 379.29L215.90 379.73L216.36 380.20L216.76 380.70L217.10 381.23L217.39 381.77L217.61 382.34L217.77 382.92L217.87 383.51L217.90 384.10L217.87 384.69L217.77 385.28L217.61 385.86L217.39 386.43L217.10 386.97L216.76 387.50L216.36 388.00L215.90 388.47L215.40 388.91L214.85 389.31L214.26 389.67L213.63 389.99L212.97 390.26L212.28 390.49L211.57 390.67L210.85 390.80L210.11 390.87L209.37 390.90L184.73 390.90L183.99 390.87L183.25 390.80L182.53 390.67L181.82 390.49L181.13 390.26L180.47 389.99L179.84 389.67L179.25 389.31L178.70 388.91L178.20 388.47L177.74 388.00L177.34 387.50L177.00 386.97L176.71 386.43L176.49 385.86L176.33 385.28L176.23 384.69L176.20 384.10L176.23 383.51L176.33 382.92L176.49 382.34L176.71 381.77L177.00 381.23L177.34 380.70L177.74 380.20L178.20 379.73L178.70 379.29L179.25 378.89L179.84 378.53L180.47 378.21L181.13 377.94L181.82 377.71L182.53 377.53L183.25 377.40L183.99 377.33L184.73 377.30Z" fill="rgb(0,0,0)"/>
<path d="M250.08 376.70L250.80 376.72L251.51 376.80L252.21 376.92L252.89 377.10L253.55 377.31L254.19 377.58L254.79 377.88L255.36 378.23L255.89 378.62L256.38 379.04L256.81 379.49L257.20 379.98L257.53 380.48L257.80 381.01L258.02 381.55L258.18 382.11L258.27 382.68L258.30 383.25L258.27 383.82L258.18 384.39L258.02 384.95L257.80 385.49L257.53 386.02L257.20 386.52L256.81 387.01L256.38 387.46L255.89 387.88L255.36 388.27L254.79 388.62L254.19 388.92L253.55 389.19L252.89 389.40L252.21 389.58L251.51 389.70L250.80 389.78L250.08 389.80L227.12 389.80L226.40 389.78L225.69 389.70L224.99 389.58L224.31 389.40L223.65 389.19L223.01 388.92L222.41 388.62L221.84 388.27L221.31 387.88L220.82 387.46L220.39 387.01L220.00 386.53L219.67 386.02L219.40 385.49L219.18 384.95L219.02 384.39L218.93 383.82L218.90 383.25L218.93 382.68L219.02 382.11L219.18 381.55L219.40 381.01L219.67 380.48L220.00 379.98L220.39 379.49L220.82 379.04L221.31 378.62L221.84 378.23L222.41 377.88L223.01 377.58L223.65 377.31L224.31 377.10L224.99 376.92L225.69 376.80L226.40 376.72L227.12 376.70Z" fill="rgb(0,0,0)"/>
<path d="M293.96 377.80L294.64 377.82L295.32 377.89L295.99 378.01L296.64 378.18L297.27 378.39L297.88 378.64L298.46 378.93L299.00 379.26L299.50 379.63L299.96 380.03L300.38 380.47L300.75 380.93L301.07 381.41L301.33 381.91L301.53 382.43L301.68 382.96L301.77 383.51L301.80 384.05L301.77 384.59L301.68 385.14L301.53 385.67L301.33 386.19L301.07 386.69L300.75 387.18L300.38 387.63L299.96 388.07L299.50 388.47L299.00 388.84L298.46 389.17L297.88 389.46L297.27 389.71L296.64 389.92L295.99 390.09L295.32 390.21L294.64 390.28L293.96 390.30L266.24 390.30L265.56 390.28L264.88 390.21L264.21 390.09L263.56 389.92L262.93 389.71L262.32 389.46L261.74 389.17L261.20 388.84L260.70 388.47L260.24 388.07L259.82 387.63L259.45 387.18L259.13 386.69L258.87 386.19L258.67 385.67L258.52 385.14L258.43 384.59L258.40 384.05L258.43 383.51L258.52 382.96L258.67 382.43L258.87 381.91L259.13 381.41L259.45 380.93L259.82 380.47L260.24 380.03L260.70 379.63L261.20 379.26L261.74 378.93L262.32 378.64L262.93 378.39L263.56 378.18L264.21 378.01L264.88 377.89L265.56 377.82L266.24 377.80Z" fill="rgb(0,0,0)"/>
<path d="M335.30 375.04L336.05 375.04L336.80 375.09L337.53 375.20L338.24 375.35L338.94 375.56L339.60 375.81L340.23 376.11L340.83 376.46L341.38 376.84L341.89 377.26L342.35 377.72L342.75 378.21L343.09 378.73L343.38 379.27L343.61 379.84L343.77 380.41L343.87 381.00L343.90 381.60L343.87 382.20L343.77 382.79L343.61 383.38L343.38 383.96L343.09 384.52L342.75 385.06L342.35 385.58L341.89 386.07L341.38 386.53L340.83 386.95L340.23 387.33L339.60 387.68L338.94 387.98L338.24 388.23L337.53 388.43L336.80 388.59L336.05 388.69L335.30 388.74L308.00 389.66L307.25 389.66L306.50 389.61L305.77 389.50L305.06 389.35L304.36 389.14L303.70 388.89L303.07 388.59L302.47 388.24L301.92 387.86L301.41 387.44L300.95 386.98L300.55 386.49L300.21 385.97L299.92 385.43L299.69 384.86L299.53 384.29L299.43 383.70L299.40 383.10L299.43 382.50L299.53 381.91L299.69 381.32L299.92 380.74L300.21 380.18L300.55 379.64L300.95 379.12L301.41 378.63L301.92 378.17L302.47 377.75L303.07 377.37L303.70 377.02L304.36 376.72L305.06 376.47L305.77 376.27L306.50 376.11L307.25 376.01L308.00 375.96Z" fill="rgb(0,0,0)"/>
<path d="M6.8 59.6C8.5 57.6 16 57 24 57.4C30 57.8 35 58 38.4 59.2C38.6 61.8 36.5 63.2 32 63.4C27 63.4 23 62.8 18 62.3C12 61.8 8 61.3 6.8 59.6Z" fill="url(#g1)"/>
<ellipse cx="238" cy="217.8" rx="7" ry="2.6" fill="#d0d0d0"/>
<ellipse cx="239" cy="217.5" rx="3.5" ry="1.1" fill="#8a8a8a"/>
<path d="M259 219.5Q272 216.5 288 216.5Q287 220 274 220.6Q265 221 259 219.5Z" fill="#cfcfcf"/>
<ellipse cx="268" cy="219" rx="4" ry="1" fill="#aaa"/>
<ellipse cx="282" cy="217.6" rx="3" ry="0.9" fill="#b5b5b5"/>
<path d="M309 214.5Q322 212.5 340 213Q338 215.5 324 215.8Q315 216 309 214.5Z" fill="#e6e6e6"/>
<path d="M9.5 221.2C14 219.6 22 219.0 28 219.4C33 219.8 36 220.6 37.8 222.0C36 223.6 32 224.2 27 224.2C20 224.0 13 222.8 9.5 221.2Z" fill="url(#g2)"/>
</g>
<rect x="477.90" y="2.00" width="307.30" height="89.70" fill="none" stroke="#000" stroke-width="1.8"/>
<rect x="489.05" y="60.65" width="15.30" height="30.15" fill="#0000ff" stroke="#080808" stroke-width="0.9"/>
<rect x="527.45" y="9.25" width="15.30" height="81.55" fill="#0000ff" stroke="#080808" stroke-width="0.9"/>
<path d="M530.90 6.50H539.30M535.10 6.50V8.80" stroke="#222" stroke-width="1" fill="none"/>
<rect x="565.95" y="18.25" width="15.30" height="72.55" fill="#0000ff" stroke="#080808" stroke-width="0.9"/>
<path d="M569.40 17.20H577.80M573.60 17.20V17.80" stroke="#222" stroke-width="1" fill="none"/>
<rect x="604.45" y="18.25" width="15.30" height="72.55" fill="#0000ff" stroke="#080808" stroke-width="0.9"/>
<path d="M607.90 17.20H616.30M612.10 17.20V17.80" stroke="#222" stroke-width="1" fill="none"/>
<rect x="643.45" y="57.45" width="14.90" height="33.35" fill="#00ff00" stroke="#080808" stroke-width="0.9"/>
<rect x="681.95" y="25.45" width="14.90" height="65.35" fill="#00ff00" stroke="#080808" stroke-width="0.9"/>
<rect x="720.45" y="31.65" width="14.90" height="59.15" fill="#00ff00" stroke="#080808" stroke-width="0.9"/>
<rect x="758.65" y="49.65" width="14.90" height="41.15" fill="#00ff00" stroke="#080808" stroke-width="0.9"/>
<rect x="477.90" y="95.00" width="307.30" height="75.90" fill="none" stroke="#000" stroke-width="1.8"/>
<rect x="489.05" y="124.45" width="15.90" height="45.55" fill="#0000ff" stroke="#080808" stroke-width="0.9"/>
<rect x="527.45" y="102.05" width="15.90" height="67.95" fill="#0000ff" stroke="#080808" stroke-width="0.9"/>
<rect x="565.95" y="100.55" width="15.90" height="69.45" fill="#0000ff" stroke="#080808" stroke-width="0.9"/>
<rect x="604.45" y="113.45" width="15.90" height="56.55" fill="#0000ff" stroke="#080808" stroke-width="0.9"/>
<rect x="643.45" y="143.85" width="14.90" height="26.15" fill="#00ff00" stroke="#080808" stroke-width="0.9"/>
<rect x="681.95" y="135.65" width="14.90" height="34.35" fill="#00ff00" stroke="#080808" stroke-width="0.9"/>
<rect x="720.45" y="129.75" width="14.90" height="40.25" fill="#00ff00" stroke="#080808" stroke-width="0.9"/>
<rect x="758.65" y="147.55" width="14.90" height="22.45" fill="#00ff00" stroke="#080808" stroke-width="0.9"/>
<rect x="477.90" y="174.80" width="307.30" height="80.05" fill="none" stroke="#000" stroke-width="1.8"/>
<rect x="489.05" y="238.35" width="15.90" height="15.60" fill="#0000ff" stroke="#080808" stroke-width="0.9"/>
<rect x="527.45" y="178.55" width="15.90" height="75.40" fill="#0000ff" stroke="#080808" stroke-width="0.9"/>
<rect x="565.95" y="183.05" width="15.90" height="70.90" fill="#0000ff" stroke="#080808" stroke-width="0.9"/>
<rect x="604.45" y="198.35" width="15.90" height="55.60" fill="#0000ff" stroke="#080808" stroke-width="0.9"/>
<rect x="643.45" y="246.45" width="15.00" height="7.50" fill="#00ff00" stroke="#080808" stroke-width="0.9"/>
<path d="M646.75 245.20H655.15M650.95 245.20V246.00" stroke="#222" stroke-width="1" fill="none"/>
<rect x="681.95" y="244.65" width="15.00" height="9.30" fill="#00ff00" stroke="#080808" stroke-width="0.9"/>
<rect x="720.45" y="245.65" width="15.00" height="8.30" fill="#00ff00" stroke="#080808" stroke-width="0.9"/>
<rect x="758.65" y="244.65" width="15.00" height="9.30" fill="#00ff00" stroke="#080808" stroke-width="0.9"/>
<rect x="477.90" y="258.20" width="307.30" height="85.60" fill="none" stroke="#000" stroke-width="1.8"/>
<rect x="489.05" y="263.55" width="15.90" height="79.35" fill="#0000ff" stroke="#080808" stroke-width="0.9"/>
<rect x="528.35" y="268.65" width="15.90" height="74.25" fill="#0000ff" stroke="#080808" stroke-width="0.9"/>
<path d="M531.50 266.20H541.10M536.30 266.20V268.20" stroke="#222" stroke-width="1" fill="none"/>
<rect x="566.85" y="268.65" width="15.90" height="74.25" fill="#0000ff" stroke="#080808" stroke-width="0.9"/>
<path d="M570.00 266.20H579.60M574.80 266.20V268.20" stroke="#222" stroke-width="1" fill="none"/>
<rect x="604.45" y="267.05" width="15.90" height="75.85" fill="#0000ff" stroke="#080808" stroke-width="0.9"/>
<rect x="643.45" y="267.65" width="15.50" height="75.25" fill="#00ff00" stroke="#080808" stroke-width="0.9"/>
<path d="M646.40 265.20H656.00M651.20 265.20V267.20" stroke="#222" stroke-width="1" fill="none"/>
<rect x="681.95" y="265.85" width="15.50" height="77.05" fill="#00ff00" stroke="#080808" stroke-width="0.9"/>
<path d="M684.90 264.00H694.50M689.70 264.00V265.40" stroke="#222" stroke-width="1" fill="none"/>
<rect x="720.45" y="263.75" width="15.50" height="79.15" fill="#00ff00" stroke="#080808" stroke-width="0.9"/>
<rect x="758.65" y="264.65" width="15.50" height="78.25" fill="#00ff00" stroke="#080808" stroke-width="0.9"/>
<rect x="477.90" y="347.40" width="307.30" height="84.50" fill="none" stroke="#000" stroke-width="1.8"/>
<rect x="489.05" y="358.65" width="16.10" height="72.35" fill="#0000ff" stroke="#080808" stroke-width="0.9"/>
<rect x="527.45" y="357.15" width="16.10" height="73.85" fill="#0000ff" stroke="#080808" stroke-width="0.9"/>
<rect x="565.95" y="359.65" width="16.10" height="71.35" fill="#0000ff" stroke="#080808" stroke-width="0.9"/>
<rect x="604.45" y="356.15" width="16.10" height="74.85" fill="#0000ff" stroke="#080808" stroke-width="0.9"/>
<rect x="643.45" y="353.75" width="15.70" height="77.25" fill="#00ff00" stroke="#080808" stroke-width="0.9"/>
<rect x="681.95" y="354.55" width="15.70" height="76.45" fill="#00ff00" stroke="#080808" stroke-width="0.9"/>
<rect x="720.45" y="355.35" width="15.70" height="75.65" fill="#00ff00" stroke="#080808" stroke-width="0.9"/>
<path d="M724.10 354.00H732.50M728.30 354.00V354.90" stroke="#222" stroke-width="1" fill="none"/>
<rect x="758.65" y="354.55" width="15.70" height="76.45" fill="#00ff00" stroke="#080808" stroke-width="0.9"/>
<text class="s" font-size="28.2" transform="translate(16.00,25.20) scale(1,1.04)">E</text>
<text class="s" font-size="26.5" transform="translate(347.90,64.70) scale(1,1.04)">P-ERK</text>
<path d="M0.40 0L0.40 0.716L0.29 0.716C0.265 0.655 0.215 0.60 0.15 0.555C0.12 0.535 0.09 0.52 0.07 0.51L0.07 0.385C0.14 0.41 0.20 0.445 0.25 0.49L0.25 0Z" transform="translate(430.34,64.70) scale(26.500,-26.500)" fill="#000"/>
<text class="s" font-size="26.5" transform="translate(445.08,64.70) scale(1,1.04)">/2</text>
<text class="s" font-size="26.5" transform="translate(347.90,141.90) scale(1,1.04)">P-JNK</text>
<text class="s" font-size="26.5" transform="translate(347.90,230.20) scale(1,1.04)">P-Akt</text>
<text class="s" font-size="26.5" transform="translate(347.90,314.50) scale(1,1.04)">P-p38</text>
<text class="s" font-size="26.5" transform="translate(348.60,397.00) scale(1,1.04)">G3PD</text>
<text class="s" font-size="20" transform="translate(29.50,452.70) scale(1,1.02)">0</text>
<text class="s" font-size="20" transform="translate(187.50,452.70) scale(1,1.02)">0</text>
<path d="M0.40 0L0.40 0.716L0.29 0.716C0.265 0.655 0.215 0.60 0.15 0.555C0.12 0.535 0.09 0.52 0.07 0.51L0.07 0.385C0.14 0.41 0.20 0.445 0.25 0.49L0.25 0Z" transform="translate(57.80,452.70) scale(20.000,-20.400)" fill="#000"/>
<text class="s" font-size="20" transform="translate(68.92,452.70) scale(1,1.02)">0</text>
<path d="M0.40 0L0.40 0.716L0.29 0.716C0.265 0.655 0.215 0.60 0.15 0.555C0.12 0.535 0.09 0.52 0.07 0.51L0.07 0.385C0.14 0.41 0.20 0.445 0.25 0.49L0.25 0Z" transform="translate(220.50,452.70) scale(20.000,-20.400)" fill="#000"/>
<text class="s" font-size="20" transform="translate(231.62,452.70) scale(1,1.02)">0</text>
<text class="s" font-size="20" transform="translate(97.00,452.70) scale(1,1.02)">20</text>
<text class="s" font-size="20" transform="translate(265.70,452.70) scale(1,1.02)">20</text>
<text class="s" font-size="20" transform="translate(142.30,452.70) scale(1,1.02)">30</text>
<text class="s" font-size="20" transform="translate(310.80,452.70) scale(1,1.02)">30</text>
<path d="M21.77 474.3H353.47M21.77 464.1V484.7M182.45 464.1V484.7M353.47 464.1V484.7" stroke="#111" stroke-width="1.3" fill="none"/>
<text class="f" x="68.6" y="519.4" font-size="19" letter-spacing="0.66">Control</text>
<text class="f" x="201.5" y="519.3" font-size="19" letter-spacing="0.45">AG 1296 + Ptx</text>
<text class="s" x="394.8" y="449.6" font-size="20.1">Min after addition</text>
<text class="s" x="394.8" y="473.5" font-size="19.8">of PDGF</text>
</svg>
</body></html>
